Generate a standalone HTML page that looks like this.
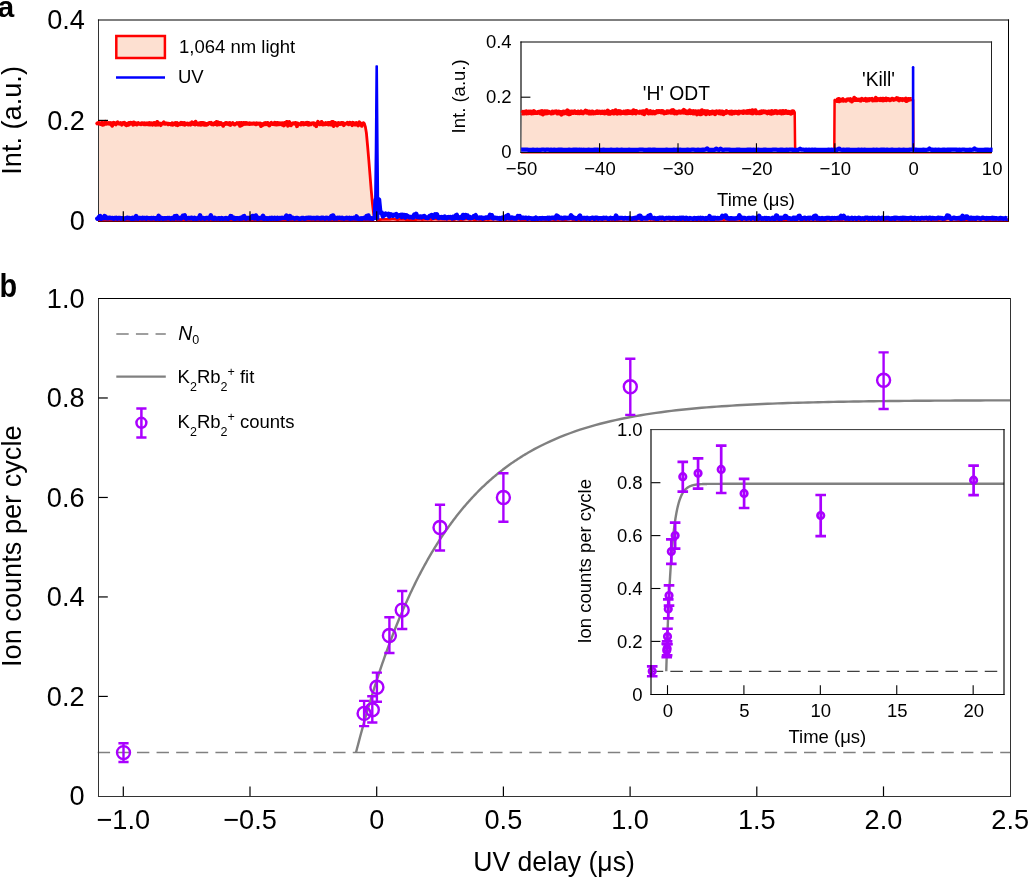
<!DOCTYPE html>
<html><head><meta charset="utf-8"><style>
html,body{margin:0;padding:0;background:#fff;overflow:hidden}
svg{display:block;will-change:transform}
text{font-family:"Liberation Sans",sans-serif}
</style></head><body>
<svg width="1028" height="877" viewBox="0 0 1028 877" font-family='"Liberation Sans", sans-serif'>
<rect width="1028" height="877" fill="#fff"/>
<line x1="98.5" y1="20" x2="98.5" y2="221.5" stroke="#333" stroke-width="1" stroke-linecap="square"/>
<line x1="98.5" y1="20" x2="1008.5" y2="20" stroke="#000" stroke-width="1.15" stroke-linecap="square"/>
<line x1="1008.5" y1="20" x2="1008.5" y2="221.5" stroke="#000" stroke-width="1" stroke-linecap="square"/>
<polygon points="99,221 99,123.45 99,123.01 99,122.92 99,122.87 99.6,123.79 100.2,123.93 100.8,124.06 101.4,122.92 102,122.9 102.6,124.83 103.2,123.04 103.8,124.43 104.4,123.96 105,123.54 105.6,121.73 106.2,123.86 106.8,123.73 107.4,123.52 108,123.16 108.6,122.96 109.2,123.79 109.8,123.7 110.4,122.95 111,123.13 111.6,124.67 112.2,125.8 112.8,123.5 113.4,122.84 114,123.75 114.6,122.92 115.2,124.09 115.8,124.44 116.4,123.57 117,122.85 117.6,122.16 118.2,123.37 118.8,123.6 119.4,123.79 120,123.6 120.6,123.07 121.2,123.9 121.8,124.77 122.4,123.56 123,122.97 123.6,123.11 124.2,122.81 124.8,123.54 125.4,124.71 126,123.83 126.6,125.27 127.2,123.59 127.8,123.6 128.4,124.77 129,123.02 129.6,123 130.2,123.87 130.8,122.74 131.4,123.1 132,123.49 132.6,123.05 133.2,124.79 133.8,122.37 134.4,124.28 135,124.18 135.6,123.21 136.2,123.52 136.8,124.63 137.4,123.4 138,122.98 138.6,123.84 139.2,123.51 139.8,123.88 140.4,124.07 141,124.38 141.6,123.19 142.2,123.6 142.8,123.2 143.4,124.26 144,124.38 144.6,123.19 145.2,123.49 145.8,124.25 146.4,123.77 147,123.19 147.6,124.05 148.2,124.48 148.8,124.11 149.4,122.97 150,124.62 150.6,124.3 151.2,123.16 151.8,123.47 152.4,124.74 153,123.6 153.6,124.25 154.2,123.05 154.8,124.61 155.4,123.09 156,124.76 156.6,123.5 157.2,121.84 157.8,124.67 158.4,124.54 159,123.22 159.6,123.39 160.2,123.97 160.8,125.16 161.4,124.12 162,123.83 162.6,123.34 163.2,122.84 163.8,122.23 164.4,123.75 165,123.91 165.6,123.84 166.2,123.37 166.8,123.35 167.4,123.82 168,124.32 168.6,123.69 169.2,123.81 169.8,124.19 170.4,123.87 171,124.68 171.6,124.55 172.2,123.32 172.8,124.69 173.4,124.13 174,124.14 174.6,123.23 175.2,123.04 175.8,124.68 176.4,123.53 177,123.07 177.6,125.22 178.2,124.14 178.8,124.21 179.4,123.61 180,124.33 180.6,123.91 181.2,122.84 181.8,124.05 182.4,122.93 183,124.38 183.6,123.01 184.2,122.88 184.8,124.82 185.4,124.15 186,123.61 186.6,123.83 187.2,123.45 187.8,124.4 188.4,124.59 189,123.7 189.6,123.35 190.2,123.48 190.8,124.65 191.4,123.06 192,122.27 192.6,123.16 193.2,124.06 193.8,123.21 194.4,124.14 195,124.41 195.6,121.66 196.2,123.29 196.8,124.12 197.4,124.11 198,124.58 198.6,123.42 199.2,123.26 199.8,124.56 200.4,123.08 201,124.76 201.6,122.83 202.2,124.56 202.8,122.91 203.4,123.56 204,124.74 204.6,123.26 205.2,123.69 205.8,124.72 206.4,123.89 207,124.73 207.6,124.38 208.2,123.36 208.8,123.3 209.4,122.98 210,123.09 210.6,123.59 211.2,122.73 211.8,124.23 212.4,123.58 213,123.93 213.6,124.47 214.2,124.05 214.8,122.96 215.4,123.97 216,124.17 216.6,121.95 217.2,124.72 217.8,122.4 218.4,124.16 219,122.81 219.6,124.3 220.2,123.87 220.8,122.93 221.4,124.29 222,124.31 222.6,124.1 223.2,125.9 223.8,124.03 224.4,124.28 225,124.19 225.6,123.07 226.2,123.77 226.8,123 227.4,123.78 228,123.37 228.6,124.33 229.2,123.9 229.8,122.97 230.4,124.97 231,123.57 231.6,123.75 232.2,123.85 232.8,123.07 233.4,123.82 234,124.21 234.6,124.6 235.2,124.19 235.8,123.61 236.4,123.63 237,123.04 237.6,123.45 238.2,123.6 238.8,124.19 239.4,122.93 240,125.94 240.6,124.51 241.2,122.9 241.8,125.22 242.4,123.43 243,124.37 243.6,122.86 244.2,123.6 244.8,123.91 245.4,122.96 246,123.62 246.6,123.08 247.2,123.77 247.8,123.9 248.4,123.63 249,123.31 249.6,124.11 250.2,123.28 250.8,123.28 251.4,123.8 252,123.9 252.6,123.47 253.2,123.65 253.8,123.29 254.4,123.91 255,123.54 255.6,124.31 256.2,124.29 256.8,123.34 257.4,123.8 258,123.52 258.6,123.86 259.2,123.39 259.8,124.09 260.4,123.42 261,126.1 261.6,124.59 262.2,125.52 262.8,124.66 263.4,123.74 264,124.37 264.6,123.1 265.2,123.02 265.8,124.2 266.4,123.79 267,123.05 267.6,122.88 268.2,124.72 268.8,123.86 269.4,125.55 270,123.97 270.6,123.25 271.2,122.82 271.8,123.72 272.4,124.09 273,123.75 273.6,123.29 274.2,124.21 274.8,122.84 275.4,124.15 276,123.31 276.6,124.65 277.2,122.87 277.8,123.64 278.4,123.2 279,124.28 279.6,123.21 280.2,123.42 280.8,123.26 281.4,124.32 282,124.7 282.6,123.17 283.2,123.63 283.8,125.54 284.4,122.85 285,123.63 285.6,123.17 286.2,124.22 286.8,121.96 287.4,123.17 288,125.76 288.6,124.77 289.2,121.94 289.8,123.61 290.4,124.34 291,125.36 291.6,123.88 292.2,123.45 292.8,123.75 293.4,123.3 294,123.61 294.6,123.73 295.2,122.92 295.8,122.93 296.4,123.53 297,126.25 297.6,123.39 298.2,123.99 298.8,123.81 299.4,124.23 300,124.35 300.6,124.63 301.2,123.07 301.8,122.82 302.4,123.41 303,123.1 303.6,124.52 304.2,124.37 304.8,123.82 305.4,123.12 306,124.1 306.6,123.89 307.2,122.64 307.8,124.56 308.4,124.74 309,123.07 309.6,124.58 310.2,123.88 310.8,124.32 311.4,123.39 312,123.34 312.6,123.32 313.2,123.17 313.8,123.36 314.4,124.77 315,123.81 315.6,124.42 316.2,126.29 316.8,123.26 317.4,123.55 318,121.72 318.6,123.54 319.2,123.7 319.8,124.36 320.4,123.01 321,124.04 321.6,121.94 322.2,122.88 322.8,124.63 323.4,124.44 324,123.54 324.6,124.19 325.2,124.26 325.8,123.11 326.4,124.11 327,123.34 327.6,124.14 328.2,122.9 328.8,124.57 329.4,122.84 330,124.4 330.6,123.58 331.2,124.68 331.8,121.99 332.4,124.57 333,121.81 333.6,126.01 334.2,123.14 334.8,123.12 335.4,122.93 336,124.31 336.6,124.41 337.2,125.53 337.8,124.02 338.4,122.97 339,124.18 339.6,124.08 340.2,124.04 340.8,123.19 341.4,122.82 342,123.05 342.6,124.25 343.2,122.88 343.8,125.21 344.4,124 345,124.05 345.6,123.64 346.2,123.65 346.8,123.69 347.4,122.85 348,123.78 348.6,124.33 349.2,123.72 349.8,122.66 350.4,123.53 351,123.81 351.6,124.3 352.2,125.15 352.8,122.77 353.4,124.26 354,123.19 354.6,123.78 355.2,124.63 355.8,124.38 356.4,122.93 357,124.31 357.6,124.59 358.2,125.4 358.8,123.33 359.4,122.32 360,124.07 360.6,123.46 361.2,124.38 361.8,125.91 362.4,123.71 363,124.18 363.6,123.3 364.6,124.5 365.4,127 366.4,133 367.6,146 368.8,160 370,175 371.2,190 372.4,203 373.4,212 374.3,217.2 374.3,221" fill="#fde0d1"/>
<line x1="98" y1="219.6" x2="374" y2="219.6" stroke="#ff0000" stroke-width="2.6"/>
<polyline points="374.3,217.2 377,218.6 378,219.69 380,219.59 382,219.3 384,219.3 386,219.3 388,219.12 390,219.26 392,219.07 394,219.18 396,219.49 398,219.77 400,219.24 402,219.41 404,219.25 406,219.77 408,219.7 410,219.74 412,219.72 414,219.59 416,219.6 418,219.18 420,219.23 422,219.5 424,219.33 426,219.29 428,219.04 430,219.39 432,219.49 434,219.04 436,219.04 438,219.45 440,219.24 442,219.42 444,219.43 446,219.33 448,219.24 450,219.11 452,219.29 454,219.66 456,219.13 458,219.01 460,219.64 462,219.57 464,219.36 466,219.05 468,219.12 470,219.53 472,219.22 474,219.65 476,219.77 478,219.04 480,219.66 482,219.71 484,219.48 486,219.46 488,219.48 490,219.41 492,219.39 494,219.13 496,219 498,219.05 500,219.02 502,219.15 504,219.13 506,219.73 508,219.08 510,219.49 512,219.53 514,219.16 516,219.33 518,219.41 520,219.51 522,219.52 524,219.33 526,219.49 528,219.41 530,219.05 532,219.5 534,219.8 536,219.58 538,219.38 540,219.43 542,219.3 544,219.35 546,219.73 548,219.06 550,219.52 552,219.14 554,219.8 556,219.21 558,219.52 560,219.1 562,219.71 564,219.74 566,219.75 568,219.21 570,219.04 572,219.51 574,219.54 576,219.55 578,219.73 580,219.78 582,219.24 584,219.74 586,219.72 588,219.07 590,219.41 592,219.14 594,219.72 596,219.67 598,219.16 600,219.13 602,219.73 604,219.15 606,219.31 608,219.48 610,219.3 612,219.68 614,219.74 616,219.79 618,219.67 620,219.43 622,219.38 624,219.42 626,219.01 628,219.02 630,219.76 632,219.19 634,219.71 636,219.63 638,219.31 640,219.47 642,219.45 644,219.14 646,219.03 648,219.09 650,219.5 652,219.13 654,219.78 656,219.56 658,219.02 660,219.11 662,219.51 664,219.03 666,219.05 668,219.04 670,219.69 672,219.61 674,219.16 676,219.76 678,219.43 680,219.53 682,219.7 684,219.6 686,219.57 688,219.31 690,219.2 692,219.16 694,219.03 696,219.76 698,219.73 700,219.6 702,219.07 704,219.6 706,219.51 708,219.38 710,219.11 712,219.63 714,219.52 716,219.24 718,219.27 720,219.21 722,219.28 724,219.74 726,219.04 728,219.61 730,219.73 732,219.62 734,219.48 736,219.38 738,219.23 740,219.6 742,219.63 744,219.02 746,219.41 748,219.08 750,219.38 752,219.04 754,219.45 756,219.57 758,219.66 760,219.46 762,219.23 764,219.35 766,219.42 768,219.23 770,219.6 772,219.04 774,219.28 776,219.08 778,219.56 780,219.66 782,219.77 784,219.47 786,219.77 788,219.41 790,219.46 792,219.13 794,219.65 796,219.75 798,219.19 800,219.13 802,219.75 804,219.61 806,219.39 808,219.79 810,219.45 812,219.08 814,219.26 816,219.08 818,219.74 820,219.71 822,219.6 824,219.34 826,219.52 828,219.3 830,219.24 832,219.34 834,219.44 836,219.14 838,219.79 840,219.5 842,219.76 844,219.1 846,219.48 848,219.55 850,219.48 852,219.03 854,219.47 856,219.42 858,219.69 860,219.36 862,219.44 864,219.26 866,219.37 868,219.55 870,219.21 872,219.18 874,219.27 876,219.51 878,219.56 880,219.41 882,219.21 884,219.6 886,219.66 888,219.49 890,219.58 892,219.78 894,219.58 896,219.48 898,219.28 900,219.19 902,219.76 904,219.21 906,219.76 908,219.8 910,219.13 912,219.53 914,219.16 916,219.12 918,219.12 920,219.24 922,219.24 924,219.22 926,219.09 928,219.73 930,219.22 932,219.71 934,219.37 936,219.01 938,219.68 940,219.35 942,219.18 944,219.78 946,219.24 948,219.02 950,219.21 952,219.59 954,219 956,219.19 958,219.68 960,219.56 962,219.47 964,219.52 966,219.68 968,219.53 970,219.52 972,219.7 974,219.51 976,219.47 978,219.18 980,219.15 982,219.1 984,219.35 986,219.21 988,219.56 990,219.72 992,219.19 994,219.32 996,219.57 998,219.13 1000,219.68 1002,219.39 1004,219.02 1006,219.69 1008,219.41" fill="none" stroke="#ff0000" stroke-width="2.8" stroke-linejoin="round"/>
<polyline points="97.2,123.45 97.8,123.01 98.4,122.92 99,122.87 99.6,123.79 100.2,123.93 100.8,124.06 101.4,122.92 102,122.9 102.6,124.83 103.2,123.04 103.8,124.43 104.4,123.96 105,123.54 105.6,121.73 106.2,123.86 106.8,123.73 107.4,123.52 108,123.16 108.6,122.96 109.2,123.79 109.8,123.7 110.4,122.95 111,123.13 111.6,124.67 112.2,125.8 112.8,123.5 113.4,122.84 114,123.75 114.6,122.92 115.2,124.09 115.8,124.44 116.4,123.57 117,122.85 117.6,122.16 118.2,123.37 118.8,123.6 119.4,123.79 120,123.6 120.6,123.07 121.2,123.9 121.8,124.77 122.4,123.56 123,122.97 123.6,123.11 124.2,122.81 124.8,123.54 125.4,124.71 126,123.83 126.6,125.27 127.2,123.59 127.8,123.6 128.4,124.77 129,123.02 129.6,123 130.2,123.87 130.8,122.74 131.4,123.1 132,123.49 132.6,123.05 133.2,124.79 133.8,122.37 134.4,124.28 135,124.18 135.6,123.21 136.2,123.52 136.8,124.63 137.4,123.4 138,122.98 138.6,123.84 139.2,123.51 139.8,123.88 140.4,124.07 141,124.38 141.6,123.19 142.2,123.6 142.8,123.2 143.4,124.26 144,124.38 144.6,123.19 145.2,123.49 145.8,124.25 146.4,123.77 147,123.19 147.6,124.05 148.2,124.48 148.8,124.11 149.4,122.97 150,124.62 150.6,124.3 151.2,123.16 151.8,123.47 152.4,124.74 153,123.6 153.6,124.25 154.2,123.05 154.8,124.61 155.4,123.09 156,124.76 156.6,123.5 157.2,121.84 157.8,124.67 158.4,124.54 159,123.22 159.6,123.39 160.2,123.97 160.8,125.16 161.4,124.12 162,123.83 162.6,123.34 163.2,122.84 163.8,122.23 164.4,123.75 165,123.91 165.6,123.84 166.2,123.37 166.8,123.35 167.4,123.82 168,124.32 168.6,123.69 169.2,123.81 169.8,124.19 170.4,123.87 171,124.68 171.6,124.55 172.2,123.32 172.8,124.69 173.4,124.13 174,124.14 174.6,123.23 175.2,123.04 175.8,124.68 176.4,123.53 177,123.07 177.6,125.22 178.2,124.14 178.8,124.21 179.4,123.61 180,124.33 180.6,123.91 181.2,122.84 181.8,124.05 182.4,122.93 183,124.38 183.6,123.01 184.2,122.88 184.8,124.82 185.4,124.15 186,123.61 186.6,123.83 187.2,123.45 187.8,124.4 188.4,124.59 189,123.7 189.6,123.35 190.2,123.48 190.8,124.65 191.4,123.06 192,122.27 192.6,123.16 193.2,124.06 193.8,123.21 194.4,124.14 195,124.41 195.6,121.66 196.2,123.29 196.8,124.12 197.4,124.11 198,124.58 198.6,123.42 199.2,123.26 199.8,124.56 200.4,123.08 201,124.76 201.6,122.83 202.2,124.56 202.8,122.91 203.4,123.56 204,124.74 204.6,123.26 205.2,123.69 205.8,124.72 206.4,123.89 207,124.73 207.6,124.38 208.2,123.36 208.8,123.3 209.4,122.98 210,123.09 210.6,123.59 211.2,122.73 211.8,124.23 212.4,123.58 213,123.93 213.6,124.47 214.2,124.05 214.8,122.96 215.4,123.97 216,124.17 216.6,121.95 217.2,124.72 217.8,122.4 218.4,124.16 219,122.81 219.6,124.3 220.2,123.87 220.8,122.93 221.4,124.29 222,124.31 222.6,124.1 223.2,125.9 223.8,124.03 224.4,124.28 225,124.19 225.6,123.07 226.2,123.77 226.8,123 227.4,123.78 228,123.37 228.6,124.33 229.2,123.9 229.8,122.97 230.4,124.97 231,123.57 231.6,123.75 232.2,123.85 232.8,123.07 233.4,123.82 234,124.21 234.6,124.6 235.2,124.19 235.8,123.61 236.4,123.63 237,123.04 237.6,123.45 238.2,123.6 238.8,124.19 239.4,122.93 240,125.94 240.6,124.51 241.2,122.9 241.8,125.22 242.4,123.43 243,124.37 243.6,122.86 244.2,123.6 244.8,123.91 245.4,122.96 246,123.62 246.6,123.08 247.2,123.77 247.8,123.9 248.4,123.63 249,123.31 249.6,124.11 250.2,123.28 250.8,123.28 251.4,123.8 252,123.9 252.6,123.47 253.2,123.65 253.8,123.29 254.4,123.91 255,123.54 255.6,124.31 256.2,124.29 256.8,123.34 257.4,123.8 258,123.52 258.6,123.86 259.2,123.39 259.8,124.09 260.4,123.42 261,126.1 261.6,124.59 262.2,125.52 262.8,124.66 263.4,123.74 264,124.37 264.6,123.1 265.2,123.02 265.8,124.2 266.4,123.79 267,123.05 267.6,122.88 268.2,124.72 268.8,123.86 269.4,125.55 270,123.97 270.6,123.25 271.2,122.82 271.8,123.72 272.4,124.09 273,123.75 273.6,123.29 274.2,124.21 274.8,122.84 275.4,124.15 276,123.31 276.6,124.65 277.2,122.87 277.8,123.64 278.4,123.2 279,124.28 279.6,123.21 280.2,123.42 280.8,123.26 281.4,124.32 282,124.7 282.6,123.17 283.2,123.63 283.8,125.54 284.4,122.85 285,123.63 285.6,123.17 286.2,124.22 286.8,121.96 287.4,123.17 288,125.76 288.6,124.77 289.2,121.94 289.8,123.61 290.4,124.34 291,125.36 291.6,123.88 292.2,123.45 292.8,123.75 293.4,123.3 294,123.61 294.6,123.73 295.2,122.92 295.8,122.93 296.4,123.53 297,126.25 297.6,123.39 298.2,123.99 298.8,123.81 299.4,124.23 300,124.35 300.6,124.63 301.2,123.07 301.8,122.82 302.4,123.41 303,123.1 303.6,124.52 304.2,124.37 304.8,123.82 305.4,123.12 306,124.1 306.6,123.89 307.2,122.64 307.8,124.56 308.4,124.74 309,123.07 309.6,124.58 310.2,123.88 310.8,124.32 311.4,123.39 312,123.34 312.6,123.32 313.2,123.17 313.8,123.36 314.4,124.77 315,123.81 315.6,124.42 316.2,126.29 316.8,123.26 317.4,123.55 318,121.72 318.6,123.54 319.2,123.7 319.8,124.36 320.4,123.01 321,124.04 321.6,121.94 322.2,122.88 322.8,124.63 323.4,124.44 324,123.54 324.6,124.19 325.2,124.26 325.8,123.11 326.4,124.11 327,123.34 327.6,124.14 328.2,122.9 328.8,124.57 329.4,122.84 330,124.4 330.6,123.58 331.2,124.68 331.8,121.99 332.4,124.57 333,121.81 333.6,126.01 334.2,123.14 334.8,123.12 335.4,122.93 336,124.31 336.6,124.41 337.2,125.53 337.8,124.02 338.4,122.97 339,124.18 339.6,124.08 340.2,124.04 340.8,123.19 341.4,122.82 342,123.05 342.6,124.25 343.2,122.88 343.8,125.21 344.4,124 345,124.05 345.6,123.64 346.2,123.65 346.8,123.69 347.4,122.85 348,123.78 348.6,124.33 349.2,123.72 349.8,122.66 350.4,123.53 351,123.81 351.6,124.3 352.2,125.15 352.8,122.77 353.4,124.26 354,123.19 354.6,123.78 355.2,124.63 355.8,124.38 356.4,122.93 357,124.31 357.6,124.59 358.2,125.4 358.8,123.33 359.4,122.32 360,124.07 360.6,123.46 361.2,124.38 361.8,125.91 362.4,123.71 363,124.18 363.6,123.3" fill="none" stroke="#ff0000" stroke-width="3.8" stroke-linejoin="round" stroke-linecap="round"/>
<polyline points="362.4,123.71 363,124.18 363.6,123.3 364.6,124.5 365.4,127 366.4,133 367.6,146 368.8,160 370,175 371.2,190 372.4,203 373.4,212 374.3,217.2" fill="none" stroke="#ff0000" stroke-width="2.8" stroke-linejoin="round" stroke-linecap="round"/>
<polyline points="97.4,218.67 98.3,218.13 99.2,216.82 100.1,216.08 101,218.75 101.9,218.15 102.8,218.26 103.7,218.28 104.6,216.19 105.5,216.78 106.4,218.19 107.3,217.92 108.2,218.16 109.1,218.07 110,217.81 110.9,218.22 111.8,218.15 112.7,218.02 113.6,218.74 114.5,218.02 115.4,218.19 116.3,217.93 117.2,218.61 118.1,218.27 119,218.03 119.9,218.15 120.8,218.62 121.7,218.27 122.6,218.35 123.5,218.63 124.4,218.65 125.3,218.18 126.2,218.23 127.1,217.8 128,218.08 128.9,218.1 129.8,218.23 130.7,218.46 131.6,218.73 132.5,217.86 133.4,218.71 134.3,217.94 135.2,218.43 136.1,216.15 137,218.41 137.9,218.65 138.8,218.25 139.7,218.01 140.6,218.33 141.5,218.49 142.4,217.89 143.3,218.35 144.2,218.1 145.1,218.01 146,218.64 146.9,217.92 147.8,218.22 148.7,218.27 149.6,218.28 150.5,218.5 151.4,217.96 152.3,218.53 153.2,218.12 154.1,218.3 155,218.27 155.9,218.8 156.8,217.98 157.7,218.45 158.6,215.94 159.5,218.78 160.4,218.28 161.3,217.83 162.2,218.43 163.1,218.66 164,218.27 164.9,218.57 165.8,218.24 166.7,218.35 167.6,218.09 168.5,218.2 169.4,218.07 170.3,218.77 171.2,218.59 172.1,218.12 173,218.39 173.9,218.58 174.8,216.23 175.7,216.26 176.6,216.07 177.5,218.28 178.4,217.86 179.3,218.34 180.2,217.95 181.1,218.49 182,217.88 182.9,215.85 183.8,215.96 184.7,215.42 185.6,218.46 186.5,218.62 187.4,218.36 188.3,218.1 189.2,218.12 190.1,218.44 191,217.85 191.9,217.84 192.8,218.61 193.7,218.72 194.6,217.81 195.5,218.39 196.4,218.78 197.3,218.21 198.2,218.44 199.1,217.95 200,215.47 200.9,218.66 201.8,217.92 202.7,218.08 203.6,218.25 204.5,218.72 205.4,218.55 206.3,217.94 207.2,218.09 208.1,218.3 209,218.69 209.9,217.85 210.8,215.49 211.7,217.88 212.6,218.53 213.5,218.66 214.4,217.86 215.3,218.37 216.2,218.48 217.1,218.6 218,218.44 218.9,218.22 219.8,218.59 220.7,218.58 221.6,218.09 222.5,218.77 223.4,218.63 224.3,218.41 225.2,218.63 226.1,218.11 227,218.69 227.9,218.48 228.8,218.7 229.7,218.08 230.6,216.14 231.5,216.31 232.4,218.09 233.3,218.69 234.2,217.95 235.1,218.6 236,218.58 236.9,218.33 237.8,218.28 238.7,218.59 239.6,218.78 240.5,217.86 241.4,218.51 242.3,218.39 243.2,216.39 244.1,216.19 245,218.38 245.9,218.69 246.8,218.28 247.7,217.99 248.6,217.98 249.5,218.16 250.4,218.2 251.3,217.95 252.2,216.29 253.1,216 254,218.4 254.9,218.32 255.8,215.51 256.7,218.39 257.6,218.73 258.5,217.9 259.4,218.39 260.3,217.93 261.2,218.14 262.1,218.18 263,215.86 263.9,218.75 264.8,217.86 265.7,218.2 266.6,218.76 267.5,218.36 268.4,218.76 269.3,218.19 270.2,217.96 271.1,218.79 272,217.84 272.9,218.15 273.8,218.7 274.7,217.85 275.6,218.51 276.5,218.79 277.4,217.94 278.3,218.74 279.2,218.1 280.1,218.56 281,218.12 281.9,217.92 282.8,217.97 283.7,217.94 284.6,217.81 285.5,218 286.4,215.58 287.3,218.55 288.2,218.76 289.1,218.19 290,216.18 290.9,218.28 291.8,217.94 292.7,217.86 293.6,218.35 294.5,218.67 295.4,218.21 296.3,218.07 297.2,218.13 298.1,218.29 299,218.7 299.9,218.78 300.8,218.7 301.7,218.01 302.6,218.09 303.5,218 304.4,218.79 305.3,218.73 306.2,218.09 307.1,217.86 308,218.09 308.9,217.82 309.8,218.14 310.7,217.8 311.6,218.33 312.5,218.24 313.4,218.02 314.3,217.94 315.2,218.57 316.1,218 317,217.89 317.9,218.3 318.8,218.01 319.7,218.51 320.6,218.38 321.5,217.87 322.4,218.21 323.3,217.86 324.2,218.14 325.1,218.66 326,217.82 326.9,218.28 327.8,218.07 328.7,218.63 329.6,217.96 330.5,218.39 331.4,216.16 332.3,215.79 333.2,215.58 334.1,218.58 335,218.38 335.9,218.09 336.8,218.53 337.7,217.83 338.6,217.93 339.5,217.89 340.4,217.97 341.3,218.36 342.2,217.82 343.1,218.54 344,218.64 344.9,218.26 345.8,218.24 346.7,217.89 347.6,218.07 348.5,218.39 349.4,217.91 350.3,218.68 351.2,218.03 352.1,218.47 353,218.2 353.9,217.82 354.8,218.49 355.7,218.4 356.6,216.51 357.5,218.14 358.4,218.78 359.3,218.71 360.2,218.65 361.1,218.32 362,218.73 362.9,218.22 363.8,218.16 364.7,217.87 365.6,218.3 366.5,216.1 367.4,218.25 368.3,215.52 369.2,218.48 370.1,218.34 371,218.42 371.9,218.32 372.8,218.75 373.7,218.11 374.9,217.8 375.6,200" fill="none" stroke="#0000ff" stroke-width="4.6" stroke-linejoin="round" stroke-linecap="round"/>
<polyline points="381,211.5 382,213.33 382.9,216.39 383.8,214.03 384.7,215.03 385.6,213.69 386.5,214.35 387.4,214.4 388.3,213.81 389.2,216.34 390.1,215.52 391,214.4 391.9,215.29 392.8,215.82 393.7,214.94 394.6,214.74 395.5,215.28 396.4,214.25 397.3,216.79 398.2,215.95 399.1,215.23 400,215.31 400.9,214.98 401.8,217 402.7,214.84 403.6,215.91 404.5,215.08 405.4,217.37 406.3,215.3 407.2,215.86 408.1,216.58 409,217.13 409.9,216.96 410.8,217.04 411.7,217.13 412.6,217.48 413.5,217.4 414.4,214.55 415.3,215.41 416.2,214 417.1,216.9 418,216.57 418.9,217.21 419.8,216.5 420.7,216.52 421.6,217.43 422.5,216.84 423.4,216.19 424.3,216.14 425.2,217.09 426.1,217.82 427,217.68 427.9,217.94 428.8,216.88 429.7,216.07 430.6,215.82 431.5,215.12 432.4,215.21 433.3,217.59 434.2,217.1 435.1,214.35 436,215.33 436.9,214.39 437.8,217.37 438.7,217.98 439.6,217.27 440.5,217.54 441.4,217.06 442.3,217.92 443.2,217.06 444.1,217.97 445,216.74 445.9,217.76 446.8,218.29 447.7,217.33 448.6,217.13 449.5,217.5 450.4,216.98 451.3,217.7 452.2,218.35 453.1,216.81 454,218.04 454.9,217.89 455.8,215.56 456.7,215.02 457.6,218.05 458.5,218.22 459.4,217.68 460.3,217.2 461.2,217.14 462.1,217.71 463,214.99 463.9,217.89 464.8,217.07 465.7,215.1 466.6,215.6 467.5,215.54 468.4,217.89 469.3,217.71 470.2,217.15 471.1,217.92 472,217.73 472.9,217.47 473.8,216.28 474.7,215.95 475.6,215.29 476.5,217.85 477.4,217.51 478.3,218.18 479.2,217.62 480.1,217.87 481,217.55 481.9,217.72 482.8,218.55 483.7,218.01 484.6,217.98 485.5,217.81 486.4,217.45 487.3,217.76 488.2,217.56 489.1,217.62 490,214.91 490.9,215.74 491.8,215.36 492.7,218.06 493.6,218.38 494.5,217.84 495.4,217.89 496.3,218.12 497.2,217.99 498.1,218.48 499,218.59 499.9,218.16 500.8,218.65 501.7,217.93 502.6,217.59 503.5,218.28 504.4,218.49 505.3,218.39 506.2,216.11 507.1,216.07 508,215.21 508.9,218.28 509.8,218.16 510.7,218.09 511.6,217.58 512.5,217.78 513.4,218.36 514.3,218 515.2,218.44 516.1,218.54 517,217.86 517.9,216.12 518.8,216.77 519.7,216.2 520.6,218.02 521.5,217.67 522.4,217.88 523.3,217.82 524.2,218.04 525.1,218.07 526,217.76 526.9,218.22 527.8,218.66 528.7,217.85 529.6,218.19 530.5,218.36 531.4,218.66 532.3,218.47 533.2,218.63 534.1,218.27 535,218.71 535.9,217.66 536.8,218.49 537.7,218.65 538.6,218.46 539.5,218.32 540.4,218.22 541.3,218.69 542.2,218.02 543.1,218.41 544,218.34 544.9,218.4 545.8,218.4 546.7,218.51 547.6,217.87 548.5,218.57 549.4,217.86 550.3,218.52 551.2,217.96 552.1,217.86 553,217.78 553.9,217.83 554.8,218.21 555.7,218.45 556.6,215.62 557.5,216.03 558.4,216.73 559.3,218.05 560.2,218.28 561.1,217.88 562,218.34 562.9,218.52 563.8,217.82 564.7,218.09 565.6,217.77 566.5,217.92 567.4,218.19 568.3,218.06 569.2,218.1 570.1,217.79 571,215.43 571.9,216.5 572.8,218.24 573.7,217.92 574.6,217.73 575.5,218.4 576.4,218.71 577.3,217.99 578.2,217.87 579.1,216.57 580,215.62 580.9,218.7 581.8,218.56 582.7,218.51 583.6,217.93 584.5,218.07 585.4,218.31 586.3,218.61 587.2,217.78 588.1,218.4 589,218.48 589.9,218.73 590.8,218.26 591.7,218.06 592.6,217.83 593.5,217.92 594.4,218.76 595.3,217.79 596.2,217.95 597.1,217.76 598,218.64 598.9,218.19 599.8,218.44 600.7,218.19 601.6,218.21 602.5,218.61 603.4,217.93 604.3,218.22 605.2,218.12 606.1,217.85 607,218.24 607.9,218.7 608.8,218.76 609.7,218.4 610.6,217.83 611.5,218.39 612.4,218.35 613.3,218.26 614.2,218.07 615.1,218.67 616,215.6 616.9,217.92 617.8,218.34 618.7,218.14 619.6,218.22 620.5,218 621.4,217.98 622.3,218 623.2,218.44 624.1,218.46 625,218.01 625.9,218.33 626.8,218.52 627.7,218.35 628.6,218.47 629.5,217.91 630.4,218.29 631.3,218.74 632.2,218.75 633.1,218.25 634,218.33 634.9,217.97 635.8,217.87 636.7,218.41 637.6,217.83 638.5,216.41 639.4,215.72 640.3,215.7 641.2,218.67 642.1,218.71 643,217.95 643.9,218.13 644.8,218.47 645.7,217.91 646.6,218.53 647.5,218.51 648.4,216.06 649.3,215.83 650.2,215.29 651.1,218.14 652,217.81 652.9,218.23 653.8,218.28 654.7,218.05 655.6,218.73 656.5,218.46 657.4,218.38 658.3,218.79 659.2,218.06 660.1,217.81 661,218.28 661.9,217.82 662.8,217.86 663.7,218.44 664.6,218.64 665.5,218.49 666.4,218.02 667.3,218.31 668.2,218.32 669.1,217.92 670,218 670.9,218.52 671.8,218.26 672.7,218.11 673.6,218.28 674.5,218.04 675.4,218.4 676.3,218.52 677.2,218.18 678.1,218.79 679,218.37 679.9,217.93 680.8,218.71 681.7,217.89 682.6,218.22 683.5,217.89 684.4,218.59 685.3,218.59 686.2,217.87 687.1,218.14 688,218.65 688.9,218.67 689.8,218.13 690.7,218.47 691.6,218.58 692.5,218.69 693.4,218.8 694.3,218 695.2,218.47 696.1,218.19 697,218.73 697.9,217.94 698.8,218.05 699.7,218.46 700.6,217.87 701.5,218.72 702.4,218.1 703.3,218.26 704.2,218.49 705.1,218.72 706,218.12 706.9,218.7 707.8,218.56 708.7,218.03 709.6,216.24 710.5,218.66 711.4,217.99 712.3,218.76 713.2,217.88 714.1,218.67 715,217.93 715.9,218.33 716.8,218.44 717.7,218.01 718.6,218.55 719.5,218.2 720.4,218.14 721.3,218.21 722.2,215.99 723.1,216.67 724,216.24 724.9,215.77 725.8,215.56 726.7,218.13 727.6,217.95 728.5,218.57 729.4,218.61 730.3,218.34 731.2,218.35 732.1,218.4 733,218.54 733.9,218.51 734.8,218.58 735.7,218.57 736.6,218.25 737.5,218.32 738.4,217.93 739.3,215.45 740.2,216.86 741.1,218.2 742,218.74 742.9,217.92 743.8,218 744.7,218.06 745.6,218.54 746.5,218.67 747.4,218.58 748.3,218.15 749.2,218.24 750.1,218.01 751,218.7 751.9,218.01 752.8,217.82 753.7,217.81 754.6,218.71 755.5,218.15 756.4,218.17 757.3,218.17 758.2,218.66 759.1,215.91 760,218 760.9,218.44 761.8,218.79 762.7,218.37 763.6,218.66 764.5,218.07 765.4,218.62 766.3,218.13 767.2,218.69 768.1,218.48 769,218.25 769.9,218.68 770.8,218.68 771.7,218.58 772.6,217.98 773.5,218.79 774.4,217.82 775.3,218.77 776.2,215.56 777.1,215.96 778,217.89 778.9,218.72 779.8,218.68 780.7,217.83 781.6,218.59 782.5,217.84 783.4,218.03 784.3,217.9 785.2,215.98 786.1,216.18 787,217.8 787.9,218.34 788.8,218.35 789.7,218.33 790.6,218.76 791.5,218.77 792.4,218.77 793.3,217.87 794.2,217.81 795.1,218.77 796,217.85 796.9,218.75 797.8,218.13 798.7,216.1 799.6,215.9 800.5,218.52 801.4,218.12 802.3,218.77 803.2,218.19 804.1,217.94 805,217.8 805.9,218.73 806.8,218.41 807.7,218.04 808.6,217.92 809.5,218.58 810.4,217.85 811.3,218.12 812.2,218.35 813.1,218.77 814,216.27 814.9,215.91 815.8,215.72 816.7,218.67 817.6,217.86 818.5,218.07 819.4,218.63 820.3,218.6 821.2,218.72 822.1,218.06 823,218.66 823.9,218.39 824.8,218.8 825.7,218.56 826.6,218 827.5,218.17 828.4,217.95 829.3,217.98 830.2,218.66 831.1,218.71 832,218.16 832.9,218.23 833.8,218.5 834.7,218.16 835.6,218.32 836.5,218.46 837.4,218.09 838.3,217.91 839.2,218.53 840.1,218.32 841,215.95 841.9,218.17 842.8,218.18 843.7,215.79 844.6,218.11 845.5,218.72 846.4,218.07 847.3,218.33 848.2,217.89 849.1,218.76 850,218.58 850.9,218.52 851.8,217.84 852.7,218.77 853.6,218.41 854.5,218.04 855.4,217.93 856.3,218.78 857.2,218.38 858.1,218 859,217.88 859.9,218.19 860.8,218.74 861.7,218.59 862.6,218.36 863.5,218.5 864.4,218.79 865.3,217.86 866.2,217.94 867.1,217.81 868,218 868.9,218.73 869.8,218.13 870.7,218.26 871.6,218.65 872.5,217.82 873.4,218.65 874.3,218.25 875.2,218 876.1,218.66 877,218.55 877.9,217.94 878.8,217.85 879.7,218.12 880.6,218.78 881.5,218.34 882.4,217.89 883.3,218.46 884.2,218.19 885.1,218.48 886,218.05 886.9,218.24 887.8,218.1 888.7,218.01 889.6,218.73 890.5,218.51 891.4,218.73 892.3,218.26 893.2,218.46 894.1,217.81 895,218.75 895.9,217.84 896.8,218.24 897.7,218.01 898.6,218.41 899.5,218.53 900.4,218 901.3,218.66 902.2,217.94 903.1,218.61 904,217.81 904.9,218.54 905.8,218.02 906.7,218.55 907.6,218.33 908.5,218.58 909.4,218.32 910.3,218 911.2,217.85 912.1,218.63 913,218.24 913.9,218.67 914.8,217.93 915.7,218.25 916.6,218.67 917.5,218.51 918.4,218.11 919.3,218.35 920.2,218.75 921.1,218.03 922,218.13 922.9,218.09 923.8,218.49 924.7,217.95 925.6,218.13 926.5,217.84 927.4,218.46 928.3,218.46 929.2,217.87 930.1,217.82 931,218.69 931.9,218 932.8,218.1 933.7,218.56 934.6,218.27 935.5,218.57 936.4,218.38 937.3,218.38 938.2,217.8 939.1,217.95 940,217.97 940.9,218.28 941.8,218.16 942.7,218.63 943.6,218.52 944.5,218.55 945.4,217.96 946.3,217.84 947.2,215.58 948.1,215.67 949,216.05 949.9,217.96 950.8,218.74 951.7,218.64 952.6,218.28 953.5,217.89 954.4,217.92 955.3,218.34 956.2,218.27 957.1,218.34 958,218.17 958.9,218.2 959.8,217.93 960.7,218.67 961.6,218.69 962.5,215.86 963.4,218.49 964.3,218.55 965.2,218.06 966.1,216.54 967,216.47 967.9,218.02 968.8,218.57 969.7,218.62 970.6,217.87 971.5,217.9 972.4,218.57 973.3,218.1 974.2,218.56 975.1,217.98 976,218.73 976.9,217.83 977.8,217.95 978.7,217.97 979.6,218.57 980.5,218.72 981.4,218.51 982.3,217.8 983.2,217.84 984.1,218.13 985,218.4 985.9,218.67 986.8,218.17 987.7,218.45 988.6,218.38 989.5,218.29 990.4,218.3 991.3,218.49 992.2,217.85 993.1,218.59 994,217.96 994.9,218.44 995.8,218.31 996.7,218.39 997.6,218.43 998.5,218.58 999.4,218.55 1000.3,218.04 1001.2,218.36 1002.1,218.38 1003,218.69 1003.9,218.46 1004.8,218.43 1005.7,218.14 1006.6,218.75 1007.5,218.47" fill="none" stroke="#0000ff" stroke-width="4.6" stroke-linejoin="round"/>
<path d="M374.6 219 L375.5 150 L376.2 66 L377.2 66 L377.9 150 L378.6 219 Z" fill="#0000ff" stroke="#0000ff" stroke-width="1.6" stroke-linejoin="round"/>
<path d="M377.5 212 L378.4 205 L379.4 198 L380.4 199 L381.6 211 L382.4 214 L377.5 214 Z" fill="#0000ff" stroke="#0000ff" stroke-width="1.6" stroke-linejoin="round"/>
<line x1="98.5" y1="221.5" x2="1008.5" y2="221.5" stroke="#700000" stroke-width="1.1" stroke-linecap="square"/>
<line x1="123.3" y1="221" x2="123.3" y2="211.2" stroke="#000" stroke-width="1.2"/>
<line x1="250" y1="221" x2="250" y2="211.2" stroke="#000" stroke-width="1.2"/>
<line x1="376.7" y1="221" x2="376.7" y2="211.2" stroke="#000" stroke-width="1.2"/>
<line x1="503.4" y1="221" x2="503.4" y2="211.2" stroke="#000" stroke-width="1.2"/>
<line x1="630.1" y1="221" x2="630.1" y2="211.2" stroke="#000" stroke-width="1.2"/>
<line x1="756.8" y1="221" x2="756.8" y2="211.2" stroke="#000" stroke-width="1.2"/>
<line x1="883.5" y1="221" x2="883.5" y2="211.2" stroke="#000" stroke-width="1.2"/>
<line x1="98" y1="120.4" x2="108" y2="120.4" stroke="#000" stroke-width="1.2"/>
<text transform="translate(-2.4,17.3)" font-size="30" font-weight="bold">a</text>
<text transform="translate(84.9,29) scale(0.97,1)" font-size="28" text-anchor="end">0.4</text>
<text transform="translate(84.9,129.6) scale(0.97,1)" font-size="28" text-anchor="end">0.2</text>
<text transform="translate(84.9,229.8) scale(0.97,1)" font-size="28" text-anchor="end">0</text>
<text transform="translate(20.9,174.7) rotate(-90) scale(0.97,1)" font-size="28">Int. (a.u.)</text>
<rect x="116.3" y="36" width="48.6" height="22" fill="#fde0d1" stroke="#ff0000" stroke-width="2.5"/>
<line x1="116" y1="77.5" x2="165" y2="77.5" stroke="#0000ff" stroke-width="2.6"/>
<text transform="translate(179,53)" font-size="18.5">1,064 nm light</text>
<text transform="translate(178,82.9)" font-size="18.5">UV</text>
<rect x="521.1" y="42.2" width="470.6" height="110.4" fill="#fff"/>
<line x1="521" y1="42" x2="521" y2="152.5" stroke="#000" stroke-width="1.15" stroke-linecap="square"/>
<line x1="521" y1="42" x2="991.5" y2="42" stroke="#000" stroke-width="1.15" stroke-linecap="square"/>
<line x1="991.5" y1="42" x2="991.5" y2="152.5" stroke="#222" stroke-width="1" stroke-linecap="square"/>
<polygon points="521.6,152.6 521.9,112.98 522.5,113.21 523.1,112.01 523.7,112.61 524.3,113.15 524.9,112.22 525.5,111.69 526.1,111.56 526.7,113.18 527.3,111.94 527.9,112.28 528.5,113.01 529.1,111.73 529.7,112.06 530.3,111.73 530.9,113.03 531.5,113.31 532.1,112.03 532.7,112.97 533.3,113.11 533.9,111.31 534.5,111.88 535.1,112.71 535.7,112.74 536.3,112.86 536.9,112.72 537.5,112.9 538.1,112.22 538.7,112.05 539.3,111.98 539.9,112.81 540.5,113.26 541.1,111.51 541.7,112.37 542.3,111.42 542.9,114.23 543.5,112.89 544.1,112.84 544.7,111.46 545.3,111.66 545.9,113.17 546.5,112.56 547.1,111.48 547.7,112.88 548.3,111.95 548.9,111.97 549.5,112.22 550.1,112.68 550.7,112.74 551.3,113.31 551.9,112.76 552.5,111.7 553.1,113.03 553.7,112.07 554.3,112.41 554.9,111.7 555.5,111.72 556.1,111.49 556.7,112.14 557.3,113.3 557.9,112 558.5,111.77 559.1,113.27 559.7,112.02 560.3,113.42 560.9,112.19 561.5,114.41 562.1,112.32 562.7,112.72 563.3,111.93 563.9,113.21 564.5,111.95 565.1,111.89 565.7,111.46 566.3,112.51 566.9,113.25 567.5,110.61 568.1,112.73 568.7,113.89 569.3,111.72 569.9,113.89 570.5,113.25 571.1,112.05 571.7,112.98 572.3,111.74 572.9,112.43 573.5,112.71 574.1,111.64 574.7,111.5 575.3,112.37 575.9,112.7 576.5,112.17 577.1,111.91 577.7,112.94 578.3,111.67 578.9,112.87 579.5,113.16 580.1,112.85 580.7,112.66 581.3,111.63 581.9,112.77 582.5,113.08 583.1,113.17 583.7,112.08 584.3,111.92 584.9,111.51 585.5,110.94 586.1,112.37 586.7,112.54 587.3,111.42 587.9,112.3 588.5,111.95 589.1,113.29 589.7,111.82 590.3,113 590.9,113.31 591.5,112.78 592.1,111.7 592.7,111.89 593.3,113.27 593.9,112.64 594.5,112.53 595.1,113.09 595.7,112.96 596.3,112.01 596.9,111.5 597.5,111.62 598.1,112.72 598.7,112.26 599.3,111.73 599.9,111.92 600.5,112.82 601.1,112.23 601.7,112.76 602.3,111.88 602.9,112.75 603.5,112.85 604.1,113.19 604.7,111.74 605.3,113.02 605.9,112.84 606.5,112.46 607.1,112.48 607.7,110.84 608.3,113.45 608.9,112.03 609.5,112.07 610.1,113.6 610.7,112.3 611.3,112.71 611.9,111.76 612.5,111.39 613.1,112.77 613.7,113.31 614.3,112.81 614.9,112.97 615.5,110.37 616.1,111.33 616.7,111.43 617.3,113.41 617.9,112.46 618.5,112.88 619.1,111.36 619.7,112.05 620.3,111.54 620.9,113.23 621.5,112.48 622.1,112.71 622.7,112.86 623.3,112.78 623.9,111.68 624.5,113.06 625.1,112.77 625.7,113.1 626.3,111.57 626.9,112.1 627.5,112.94 628.1,111.35 628.7,112.83 629.3,112.81 629.9,111.82 630.5,112.56 631.1,111.81 631.7,111.77 632.3,113.19 632.9,113.17 633.5,110.38 634.1,111.81 634.7,111.66 635.3,111.54 635.9,113.11 636.5,111.34 637.1,112.44 637.7,112.33 638.3,112.52 638.9,112.56 639.5,112.67 640.1,111.75 640.7,112.34 641.3,111.75 641.9,112.8 642.5,113.29 643.1,111.5 643.7,111.37 644.3,113.99 644.9,111.94 645.5,112.31 646.1,111.99 646.7,110.37 647.3,112.24 647.9,112.55 648.5,113.16 649.1,112.92 649.7,113 650.3,111.38 650.9,113.02 651.5,113.08 652.1,113.21 652.7,112.73 653.3,111.92 653.9,112.87 654.5,113.21 655.1,112.27 655.7,112.83 656.3,111.97 656.9,111.34 657.5,112 658.1,112.03 658.7,111.32 659.3,111.79 659.9,111.48 660.5,111.39 661.1,112.17 661.7,111.44 662.3,112.23 662.9,111.42 663.5,111.8 664.1,113.18 664.7,112.87 665.3,112.61 665.9,112.82 666.5,112.74 667.1,111.55 667.7,112.53 668.3,111.64 668.9,111.88 669.5,111.99 670.1,111.49 670.7,112.59 671.3,112.62 671.9,110.38 672.5,110.8 673.1,110.22 673.7,112.61 674.3,113.06 674.9,112.21 675.5,111.82 676.1,112.7 676.7,113.29 677.3,113.03 677.9,111.95 678.5,112.08 679.1,111.52 679.7,112.01 680.3,112.55 680.9,112.65 681.5,111.66 682.1,111.5 682.7,112.07 683.3,112.44 683.9,110.07 684.5,112.01 685.1,111.65 685.7,112.78 686.3,111.63 686.9,113.05 687.5,111.63 688.1,111.83 688.7,112.82 689.3,111.78 689.9,110.63 690.5,112.97 691.1,111.36 691.7,111.53 692.3,111.63 692.9,113.14 693.5,111.31 694.1,112.02 694.7,113.17 695.3,111.44 695.9,112.78 696.5,113.04 697.1,114.13 697.7,111.77 698.3,113.02 698.9,111.46 699.5,113.14 700.1,113.93 700.7,111.49 701.3,113.96 701.9,110.47 702.5,111.4 703.1,112.62 703.7,112.02 704.3,113.06 704.9,111.37 705.5,112.6 706.1,114.03 706.7,111.45 707.3,111.36 707.9,111.57 708.5,112.79 709.1,113.17 709.7,113.58 710.3,112.24 710.9,113.18 711.5,113.27 712.1,111.72 712.7,111.69 713.3,112.2 713.9,113.21 714.5,112.1 715.1,113.88 715.7,111.76 716.3,111.59 716.9,112.5 717.5,112.38 718.1,111.8 718.7,111.83 719.3,113.1 719.9,111.55 720.5,112.79 721.1,113.4 721.7,111.79 722.3,111.73 722.9,112.77 723.5,114.05 724.1,112.33 724.7,112.78 725.3,112.86 725.9,112.89 726.5,111.2 727.1,112.34 727.7,112.02 728.3,112.39 728.9,112.46 729.5,112.04 730.1,113.19 730.7,112.1 731.3,111.79 731.9,113.6 732.5,111.93 733.1,112.16 733.7,112.79 734.3,113.05 734.9,111.92 735.5,112.1 736.1,112.07 736.7,112.77 737.3,112.69 737.9,112.26 738.5,113.26 739.1,111.7 739.7,112.5 740.3,112.21 740.9,111.93 741.5,111.96 742.1,111.9 742.7,112.65 743.3,112.83 743.9,111.5 744.5,111.85 745.1,111.67 745.7,112.45 746.3,112 746.9,112.56 747.5,111.39 748.1,112.6 748.7,111.35 749.3,112.45 749.9,111.08 750.5,111.43 751.1,111.61 751.7,113.06 752.3,110.37 752.9,113.2 753.5,111.93 754.1,111.9 754.7,112.22 755.3,110.41 755.9,112.26 756.5,112.99 757.1,112.26 757.7,112.47 758.3,112.87 758.9,112.94 759.5,113.13 760.1,111.95 760.7,112.67 761.3,112.84 761.9,111.44 762.5,112.39 763.1,111.64 763.7,111.47 764.3,111.74 764.9,112.1 765.5,111.77 766.1,111.83 766.7,112.64 767.3,113.06 767.9,111.87 768.5,111.77 769.1,111.7 769.7,112.9 770.3,113.17 770.9,111.87 771.5,113.55 772.1,111.35 772.7,111.55 773.3,113 773.9,112.86 774.5,112.2 775.1,111.4 775.7,112.49 776.3,111.38 776.9,112.27 777.5,112.95 778.1,112.08 778.7,112.32 779.3,112.69 779.9,111.35 780.5,111.42 781.1,111.51 781.7,113.13 782.3,111.37 782.9,111.31 783.5,112.95 784.1,111.92 784.7,111.53 785.3,112.67 785.9,111.3 786.5,112.58 787.1,112.64 787.7,112.88 788.3,112.05 788.9,112.01 789.5,112.65 790.1,113.02 790.7,113.43 791.3,113.15 791.9,111.81 792.5,112.67 793.1,111.5 793.7,114.43 794.3,111.8 794.7,113 795,140 795.2,151.5 795.2,152.6" fill="#fde0d1"/>
<polygon points="834.3,152.6 834.3,151.5 834.4,130 834.6,100 835.4,99.6 835.6,99.15 836.2,100.56 836.8,100.85 837.4,99.65 838,100.61 838.6,98.94 839.2,101.26 839.8,100.68 840.4,99.64 841,100.52 841.6,99.7 842.2,99.67 842.8,99.22 843.4,100.66 844,100.16 844.6,100.37 845.2,100.65 845.8,100.78 846.4,100.34 847,99.43 847.6,99.66 848.2,99.21 848.8,99.56 849.4,99.57 850,100.47 850.6,99.19 851.2,100.27 851.8,101.47 852.4,99.77 853,100.26 853.6,100.22 854.2,97.67 854.8,98.94 855.4,99.99 856,98.97 856.6,100.03 857.2,99.72 857.8,100.01 858.4,99.89 859,99.47 859.6,100.17 860.2,100.48 860.8,100.62 861.4,98.94 862,98.84 862.6,99.22 863.2,99.78 863.8,99.98 864.4,99.97 865,99.61 865.6,98.82 866.2,100.57 866.8,99.28 867.4,99.16 868,100.34 868.6,99.52 869.2,100.01 869.8,99.09 870.4,99.31 871,99.05 871.6,99.61 872.2,98.96 872.8,100.5 873.4,100.12 874,100.32 874.6,100.04 875.2,99.32 875.8,97.93 876.4,100.33 877,98.91 877.6,100.09 878.2,99.72 878.8,99.13 879.4,99.55 880,100.12 880.6,98.91 881.2,99.57 881.8,100.08 882.4,98.9 883,100.34 883.6,98.77 884.2,99.64 884.8,100.07 885.4,99.48 886,98.55 886.6,100.11 887.2,99.54 887.8,99.11 888.4,98.91 889,99.25 889.6,100.3 890.2,100.07 890.8,99.28 891.4,99.63 892,98.74 892.6,98.7 893.2,99.22 893.8,99.85 894.4,99.31 895,99.38 895.6,99.36 896.2,98.86 896.8,98.11 897.4,99.19 898,99.66 898.6,98.69 899.2,100.45 899.8,99.53 900.4,99.11 901,98.92 901.6,99.57 902.2,100.08 902.8,99.02 903.4,99.78 904,99.57 904.6,100.05 905.2,99.06 905.8,98.54 906.4,101.05 907,99.11 907.6,100.43 908.2,99.16 908.8,99 909.4,99.71 910,98.95 910.6,98.93 911.2,99.24 911.8,98.86 912.8,99 913.1,100 913.3,130 913.4,151.5 913.4,152.6" fill="#fde0d1"/>
<line x1="521.1" y1="152.7" x2="991.7" y2="152.7" stroke="#ff0000" stroke-width="1.5"/>
<polyline points="521.9,112.98 522.5,113.21 523.1,112.01 523.7,112.61 524.3,113.15 524.9,112.22 525.5,111.69 526.1,111.56 526.7,113.18 527.3,111.94 527.9,112.28 528.5,113.01 529.1,111.73 529.7,112.06 530.3,111.73 530.9,113.03 531.5,113.31 532.1,112.03 532.7,112.97 533.3,113.11 533.9,111.31 534.5,111.88 535.1,112.71 535.7,112.74 536.3,112.86 536.9,112.72 537.5,112.9 538.1,112.22 538.7,112.05 539.3,111.98 539.9,112.81 540.5,113.26 541.1,111.51 541.7,112.37 542.3,111.42 542.9,114.23 543.5,112.89 544.1,112.84 544.7,111.46 545.3,111.66 545.9,113.17 546.5,112.56 547.1,111.48 547.7,112.88 548.3,111.95 548.9,111.97 549.5,112.22 550.1,112.68 550.7,112.74 551.3,113.31 551.9,112.76 552.5,111.7 553.1,113.03 553.7,112.07 554.3,112.41 554.9,111.7 555.5,111.72 556.1,111.49 556.7,112.14 557.3,113.3 557.9,112 558.5,111.77 559.1,113.27 559.7,112.02 560.3,113.42 560.9,112.19 561.5,114.41 562.1,112.32 562.7,112.72 563.3,111.93 563.9,113.21 564.5,111.95 565.1,111.89 565.7,111.46 566.3,112.51 566.9,113.25 567.5,110.61 568.1,112.73 568.7,113.89 569.3,111.72 569.9,113.89 570.5,113.25 571.1,112.05 571.7,112.98 572.3,111.74 572.9,112.43 573.5,112.71 574.1,111.64 574.7,111.5 575.3,112.37 575.9,112.7 576.5,112.17 577.1,111.91 577.7,112.94 578.3,111.67 578.9,112.87 579.5,113.16 580.1,112.85 580.7,112.66 581.3,111.63 581.9,112.77 582.5,113.08 583.1,113.17 583.7,112.08 584.3,111.92 584.9,111.51 585.5,110.94 586.1,112.37 586.7,112.54 587.3,111.42 587.9,112.3 588.5,111.95 589.1,113.29 589.7,111.82 590.3,113 590.9,113.31 591.5,112.78 592.1,111.7 592.7,111.89 593.3,113.27 593.9,112.64 594.5,112.53 595.1,113.09 595.7,112.96 596.3,112.01 596.9,111.5 597.5,111.62 598.1,112.72 598.7,112.26 599.3,111.73 599.9,111.92 600.5,112.82 601.1,112.23 601.7,112.76 602.3,111.88 602.9,112.75 603.5,112.85 604.1,113.19 604.7,111.74 605.3,113.02 605.9,112.84 606.5,112.46 607.1,112.48 607.7,110.84 608.3,113.45 608.9,112.03 609.5,112.07 610.1,113.6 610.7,112.3 611.3,112.71 611.9,111.76 612.5,111.39 613.1,112.77 613.7,113.31 614.3,112.81 614.9,112.97 615.5,110.37 616.1,111.33 616.7,111.43 617.3,113.41 617.9,112.46 618.5,112.88 619.1,111.36 619.7,112.05 620.3,111.54 620.9,113.23 621.5,112.48 622.1,112.71 622.7,112.86 623.3,112.78 623.9,111.68 624.5,113.06 625.1,112.77 625.7,113.1 626.3,111.57 626.9,112.1 627.5,112.94 628.1,111.35 628.7,112.83 629.3,112.81 629.9,111.82 630.5,112.56 631.1,111.81 631.7,111.77 632.3,113.19 632.9,113.17 633.5,110.38 634.1,111.81 634.7,111.66 635.3,111.54 635.9,113.11 636.5,111.34 637.1,112.44 637.7,112.33 638.3,112.52 638.9,112.56 639.5,112.67 640.1,111.75 640.7,112.34 641.3,111.75 641.9,112.8 642.5,113.29 643.1,111.5 643.7,111.37 644.3,113.99 644.9,111.94 645.5,112.31 646.1,111.99 646.7,110.37 647.3,112.24 647.9,112.55 648.5,113.16 649.1,112.92 649.7,113 650.3,111.38 650.9,113.02 651.5,113.08 652.1,113.21 652.7,112.73 653.3,111.92 653.9,112.87 654.5,113.21 655.1,112.27 655.7,112.83 656.3,111.97 656.9,111.34 657.5,112 658.1,112.03 658.7,111.32 659.3,111.79 659.9,111.48 660.5,111.39 661.1,112.17 661.7,111.44 662.3,112.23 662.9,111.42 663.5,111.8 664.1,113.18 664.7,112.87 665.3,112.61 665.9,112.82 666.5,112.74 667.1,111.55 667.7,112.53 668.3,111.64 668.9,111.88 669.5,111.99 670.1,111.49 670.7,112.59 671.3,112.62 671.9,110.38 672.5,110.8 673.1,110.22 673.7,112.61 674.3,113.06 674.9,112.21 675.5,111.82 676.1,112.7 676.7,113.29 677.3,113.03 677.9,111.95 678.5,112.08 679.1,111.52 679.7,112.01 680.3,112.55 680.9,112.65 681.5,111.66 682.1,111.5 682.7,112.07 683.3,112.44 683.9,110.07 684.5,112.01 685.1,111.65 685.7,112.78 686.3,111.63 686.9,113.05 687.5,111.63 688.1,111.83 688.7,112.82 689.3,111.78 689.9,110.63 690.5,112.97 691.1,111.36 691.7,111.53 692.3,111.63 692.9,113.14 693.5,111.31 694.1,112.02 694.7,113.17 695.3,111.44 695.9,112.78 696.5,113.04 697.1,114.13 697.7,111.77 698.3,113.02 698.9,111.46 699.5,113.14 700.1,113.93 700.7,111.49 701.3,113.96 701.9,110.47 702.5,111.4 703.1,112.62 703.7,112.02 704.3,113.06 704.9,111.37 705.5,112.6 706.1,114.03 706.7,111.45 707.3,111.36 707.9,111.57 708.5,112.79 709.1,113.17 709.7,113.58 710.3,112.24 710.9,113.18 711.5,113.27 712.1,111.72 712.7,111.69 713.3,112.2 713.9,113.21 714.5,112.1 715.1,113.88 715.7,111.76 716.3,111.59 716.9,112.5 717.5,112.38 718.1,111.8 718.7,111.83 719.3,113.1 719.9,111.55 720.5,112.79 721.1,113.4 721.7,111.79 722.3,111.73 722.9,112.77 723.5,114.05 724.1,112.33 724.7,112.78 725.3,112.86 725.9,112.89 726.5,111.2 727.1,112.34 727.7,112.02 728.3,112.39 728.9,112.46 729.5,112.04 730.1,113.19 730.7,112.1 731.3,111.79 731.9,113.6 732.5,111.93 733.1,112.16 733.7,112.79 734.3,113.05 734.9,111.92 735.5,112.1 736.1,112.07 736.7,112.77 737.3,112.69 737.9,112.26 738.5,113.26 739.1,111.7 739.7,112.5 740.3,112.21 740.9,111.93 741.5,111.96 742.1,111.9 742.7,112.65 743.3,112.83 743.9,111.5 744.5,111.85 745.1,111.67 745.7,112.45 746.3,112 746.9,112.56 747.5,111.39 748.1,112.6 748.7,111.35 749.3,112.45 749.9,111.08 750.5,111.43 751.1,111.61 751.7,113.06 752.3,110.37 752.9,113.2 753.5,111.93 754.1,111.9 754.7,112.22 755.3,110.41 755.9,112.26 756.5,112.99 757.1,112.26 757.7,112.47 758.3,112.87 758.9,112.94 759.5,113.13 760.1,111.95 760.7,112.67 761.3,112.84 761.9,111.44 762.5,112.39 763.1,111.64 763.7,111.47 764.3,111.74 764.9,112.1 765.5,111.77 766.1,111.83 766.7,112.64 767.3,113.06 767.9,111.87 768.5,111.77 769.1,111.7 769.7,112.9 770.3,113.17 770.9,111.87 771.5,113.55 772.1,111.35 772.7,111.55 773.3,113 773.9,112.86 774.5,112.2 775.1,111.4 775.7,112.49 776.3,111.38 776.9,112.27 777.5,112.95 778.1,112.08 778.7,112.32 779.3,112.69 779.9,111.35 780.5,111.42 781.1,111.51 781.7,113.13 782.3,111.37 782.9,111.31 783.5,112.95 784.1,111.92 784.7,111.53 785.3,112.67 785.9,111.3 786.5,112.58 787.1,112.64 787.7,112.88 788.3,112.05 788.9,112.01 789.5,112.65 790.1,113.02 790.7,113.43 791.3,113.15 791.9,111.81 792.5,112.67 793.1,111.5 793.7,114.43" fill="none" stroke="#ff0000" stroke-width="4.4" stroke-linejoin="round"/>
<polyline points="835.6,99.15 836.2,100.56 836.8,100.85 837.4,99.65 838,100.61 838.6,98.94 839.2,101.26 839.8,100.68 840.4,99.64 841,100.52 841.6,99.7 842.2,99.67 842.8,99.22 843.4,100.66 844,100.16 844.6,100.37 845.2,100.65 845.8,100.78 846.4,100.34 847,99.43 847.6,99.66 848.2,99.21 848.8,99.56 849.4,99.57 850,100.47 850.6,99.19 851.2,100.27 851.8,101.47 852.4,99.77 853,100.26 853.6,100.22 854.2,97.67 854.8,98.94 855.4,99.99 856,98.97 856.6,100.03 857.2,99.72 857.8,100.01 858.4,99.89 859,99.47 859.6,100.17 860.2,100.48 860.8,100.62 861.4,98.94 862,98.84 862.6,99.22 863.2,99.78 863.8,99.98 864.4,99.97 865,99.61 865.6,98.82 866.2,100.57 866.8,99.28 867.4,99.16 868,100.34 868.6,99.52 869.2,100.01 869.8,99.09 870.4,99.31 871,99.05 871.6,99.61 872.2,98.96 872.8,100.5 873.4,100.12 874,100.32 874.6,100.04 875.2,99.32 875.8,97.93 876.4,100.33 877,98.91 877.6,100.09 878.2,99.72 878.8,99.13 879.4,99.55 880,100.12 880.6,98.91 881.2,99.57 881.8,100.08 882.4,98.9 883,100.34 883.6,98.77 884.2,99.64 884.8,100.07 885.4,99.48 886,98.55 886.6,100.11 887.2,99.54 887.8,99.11 888.4,98.91 889,99.25 889.6,100.3 890.2,100.07 890.8,99.28 891.4,99.63 892,98.74 892.6,98.7 893.2,99.22 893.8,99.85 894.4,99.31 895,99.38 895.6,99.36 896.2,98.86 896.8,98.11 897.4,99.19 898,99.66 898.6,98.69 899.2,100.45 899.8,99.53 900.4,99.11 901,98.92 901.6,99.57 902.2,100.08 902.8,99.02 903.4,99.78 904,99.57 904.6,100.05 905.2,99.06 905.8,98.54 906.4,101.05 907,99.11 907.6,100.43 908.2,99.16 908.8,99 909.4,99.71 910,98.95 910.6,98.93 911.2,99.24 911.8,98.86" fill="none" stroke="#ff0000" stroke-width="4.0" stroke-linejoin="round"/>
<polyline points="793.7,114.43 794.3,111.8 794.7,113 795,140 795.2,151.5" fill="none" stroke="#ff0000" stroke-width="2.5" stroke-linejoin="round"/>
<polyline points="834.3,151.5 834.4,130 834.6,100 835.4,99.6 835.6,99.15" fill="none" stroke="#ff0000" stroke-width="2.5" stroke-linejoin="round"/>
<polyline points="911.8,98.86 912.8,99 913.1,100 913.3,130 913.4,151.5" fill="none" stroke="#ff0000" stroke-width="2.5" stroke-linejoin="round"/>
<polyline points="521.1,149.7 522.6,149.66 524.1,149.67 525.6,149.69 527.1,149.67 528.6,149.87 530.1,149.92 531.6,149.82 533.1,149.68 534.6,149.78 536.1,149.87 537.6,149.77 539.1,149.91 540.6,149.83 542.1,149.66 543.6,149.69 545.1,149.86 546.6,149.68 548.1,149.7 549.6,149.85 551.1,149.76 552.6,149.78 554.1,149.73 555.6,149.94 557.1,149.86 558.6,149.7 560.1,149.76 561.6,149.67 563.1,149.85 564.6,149.78 566.1,149.82 567.6,149.91 569.1,149.75 570.6,149.93 572.1,149.92 573.6,149.69 575.1,149.76 576.6,149.65 578.1,149.89 579.6,149.65 581.1,149.77 582.6,149.82 584.1,149.77 585.6,149.94 587.1,149.83 588.6,149.76 590.1,149.92 591.6,149.89 593.1,149.95 594.6,149.75 596.1,149.73 597.6,149.7 599.1,149.8 600.6,149.93 602.1,149.93 603.6,149.69 605.1,149.82 606.6,149.83 608.1,149.93 609.6,149.88 611.1,149.73 612.6,149.91 614.1,149.87 615.6,149.87 617.1,149.68 618.6,149.87 620.1,149.85 621.6,149.76 623.1,149.93 624.6,149.78 626.1,149.89 627.6,149.79 629.1,149.77 630.6,149.79 632.1,149.87 633.6,149.85 635.1,149.95 636.6,149.87 638.1,149.84 639.6,149.72 641.1,149.66 642.6,149.68 644.1,149.92 645.6,149.79 647.1,149.87 648.6,149.75 650.1,149.71 651.6,149.89 653.1,149.71 654.6,149.75 656.1,149.93 657.6,149.89 659.1,149.92 660.6,149.92 662.1,149.94 663.6,149.84 665.1,149.91 666.6,149.68 668.1,149.89 669.6,149.87 671.1,149.79 672.6,149.94 674.1,149.7 675.6,149.82 677.1,149.7 678.6,149.79 680.1,149.73 681.6,149.82 683.1,149.83 684.6,149.92 686.1,149.94 687.6,149.69 689.1,149.94 690.6,149.81 692.1,149.66 693.6,149.69 695.1,149.84 696.6,149.93 698.1,149.76 699.6,149.84 701.1,149.91 702.6,149.76 704.1,149.74 705.6,149.72 707.1,148.47 708.6,149.82 710.1,149.8 711.6,149.9 713.1,149.86 714.6,149.95 716.1,148.66 717.6,149.66 719.1,149.94 720.6,148.62 722.1,149.77 723.6,149.83 725.1,149.65 726.6,149.7 728.1,149.68 729.6,149.73 731.1,149.8 732.6,149.94 734.1,149.86 735.6,149.9 737.1,149.68 738.6,149.73 740.1,149.76 741.6,149.94 743.1,149.95 744.6,149.85 746.1,149.87 747.6,149.76 749.1,149.73 750.6,149.7 752.1,149.83 753.6,149.7 755.1,149.82 756.6,149.77 758.1,149.65 759.6,149.78 761.1,149.88 762.6,149.9 764.1,149.68 765.6,149.77 767.1,149.88 768.6,149.85 770.1,149.79 771.6,149.93 773.1,149.7 774.6,149.67 776.1,149.68 777.6,149.78 779.1,149.8 780.6,149.72 782.1,149.74 783.6,149.92 785.1,149.78 786.6,149.66 788.1,149.9 789.6,149.7 791.1,149.67 792.6,149.75 794.1,149.87 795.6,149.8 797.1,149.85 798.6,149.85 800.1,148.72 801.6,149.72 803.1,149.71 804.6,149.86 806.1,149.75 807.6,149.85 809.1,149.77 810.6,149.78 812.1,149.67 813.6,149.95 815.1,149.68 816.6,149.8 818.1,149.85 819.6,149.89 821.1,149.93 822.6,149.79 824.1,149.8 825.6,149.86 827.1,149.82 828.6,149.66 830.1,149.89 831.6,149.75 833.1,149.82 834.6,149.75 836.1,149.76 837.6,149.73 839.1,148.58 840.6,149.68 842.1,149.91 843.6,149.7 845.1,149.87 846.6,149.76 848.1,149.65 849.6,149.76 851.1,149.95 852.6,149.92 854.1,149.91 855.6,149.94 857.1,149.93 858.6,149.71 860.1,149.79 861.6,149.76 863.1,149.83 864.6,149.73 866.1,149.8 867.6,149.85 869.1,149.81 870.6,149.88 872.1,149.88 873.6,149.72 875.1,149.8 876.6,149.74 878.1,149.86 879.6,149.79 881.1,149.71 882.6,149.76 884.1,149.76 885.6,149.87 887.1,149.72 888.6,149.85 890.1,149.84 891.6,149.73 893.1,149.76 894.6,149.94 896.1,149.85 897.6,149.89 899.1,149.75 900.6,149.89 902.1,149.8 903.6,149.73 905.1,149.86 906.6,149.9 908.1,149.78 909.6,149.74 911.1,149.71 912.6,149.6 916,149.73 917.5,149.91 919,149.91 920.5,149.78 922,149.88 923.5,149.69 925,149.78 926.5,149.83 928,149.66 929.5,148.56 931,149.76 932.5,149.75 934,149.84 935.5,149.66 937,149.83 938.5,149.71 940,149.92 941.5,149.83 943,149.75 944.5,149.75 946,149.83 947.5,149.69 949,149.74 950.5,149.76 952,149.68 953.5,149.72 955,149.72 956.5,149.76 958,149.89 959.5,149.73 961,149.79 962.5,149.67 964,149.72 965.5,149.88 967,149.81 968.5,149.89 970,149.73 971.5,149.78 973,149.68 974.5,148.51 976,149.68 977.5,149.76 979,149.8 980.5,149.86 982,149.94 983.5,149.8 985,149.76 986.5,149.71 988,149.76 989.5,149.83 991,149.74 992.6,149.8" fill="none" stroke="#0000ff" stroke-width="4.3" stroke-linejoin="round"/>
<path d="M913.1 150 V67.2" stroke="#0000ff" stroke-width="2.6" stroke-linecap="round"/>
<line x1="521" y1="152.5" x2="991.5" y2="152.5" stroke="#111" stroke-width="1" stroke-linecap="square"/>
<line x1="599.58" y1="152.6" x2="599.58" y2="143.3" stroke="#000" stroke-width="1.1"/>
<line x1="678.01" y1="152.6" x2="678.01" y2="143.3" stroke="#000" stroke-width="1.1"/>
<line x1="756.44" y1="152.6" x2="756.44" y2="143.3" stroke="#000" stroke-width="1.1"/>
<line x1="834.87" y1="152.6" x2="834.87" y2="143.3" stroke="#000" stroke-width="1.1"/>
<line x1="913.3" y1="152.6" x2="913.3" y2="143.3" stroke="#000" stroke-width="1.1"/>
<line x1="521.1" y1="97.2" x2="530.4" y2="97.2" stroke="#000" stroke-width="1.1"/>
<text transform="translate(511.6,48)" font-size="18.5" text-anchor="end">0.4</text>
<text transform="translate(511.6,103)" font-size="18.5" text-anchor="end">0.2</text>
<text transform="translate(511.6,157.9)" font-size="18.5" text-anchor="end">0</text>
<text transform="translate(521.55,175)" font-size="18.5" text-anchor="middle">−50</text>
<text transform="translate(599.98,175)" font-size="18.5" text-anchor="middle">−40</text>
<text transform="translate(678.41,175)" font-size="18.5" text-anchor="middle">−30</text>
<text transform="translate(756.84,175)" font-size="18.5" text-anchor="middle">−20</text>
<text transform="translate(835.27,175)" font-size="18.5" text-anchor="middle">−10</text>
<text transform="translate(913.7,175)" font-size="18.5" text-anchor="middle">0</text>
<text transform="translate(992.13,175)" font-size="18.5" text-anchor="middle">10</text>
<text transform="translate(756,205.5)" font-size="18.5" text-anchor="middle">Time (μs)</text>
<text transform="translate(465.3,96.4) rotate(-90)" font-size="18.5" text-anchor="middle">Int. (a.u.)</text>
<text transform="translate(676.4,99.7)" font-size="19.3" text-anchor="middle">'H' ODT</text>
<text transform="translate(878.5,85.9)" font-size="19.3" text-anchor="middle">'Kill'</text>
<line x1="97.7" y1="752.5" x2="1010.2" y2="752.5" stroke="#808080" stroke-width="1.5" stroke-dasharray="12.4 7.22"/>
<polyline points="356,752.5 357.01,748.57 358.03,744.69 359.04,740.86 360.05,737.06 361.07,733.31 362.08,729.6 363.1,725.93 364.11,722.3 365.12,718.71 366.14,715.16 367.15,711.65 368.16,708.18 369.18,704.75 370.19,701.36 371.2,698 372.22,694.68 373.23,691.4 374.24,688.16 375.26,684.95 376.27,681.77 377.29,678.64 378.3,675.53 379.31,672.47 380.33,669.43 381.34,666.43 382.35,663.47 383.37,660.53 384.38,657.63 385.39,654.76 386.41,651.93 387.42,649.12 388.44,646.35 389.45,643.61 390.46,640.89 391.48,638.21 392.49,635.56 393.5,632.94 394.52,630.34 395.53,627.78 396.54,625.24 397.56,622.74 398.57,620.26 399.58,617.8 400.6,615.38 401.61,612.98 402.63,610.61 403.64,608.26 404.65,605.95 405.67,603.65 406.68,601.39 407.69,599.14 408.71,596.93 409.72,594.73 410.73,592.57 411.75,590.42 412.76,588.3 413.78,586.21 414.79,584.13 415.8,582.08 416.82,580.06 417.83,578.05 418.84,576.07 419.86,574.11 420.87,572.17 421.88,570.25 422.9,568.36 423.91,566.48 424.92,564.63 425.94,562.8 426.95,560.99 427.97,559.19 428.98,557.42 429.99,555.67 431.01,553.94 432.02,552.22 433.03,550.53 434.05,548.85 435.06,547.2 436.07,545.56 437.09,543.94 438.1,542.34 439.12,540.75 440.13,539.18 441.14,537.63 442.16,536.1 443.17,534.59 444.18,533.09 445.2,531.61 446.21,530.14 447.22,528.7 448.24,527.26 449.25,525.85 450.26,524.45 451.28,523.06 452.29,521.69 453.31,520.34 454.32,519 455.33,517.67 456.35,516.36 457.36,515.07 458.37,513.79 459.39,512.52 460.4,511.27 461.41,510.03 462.43,508.81 463.44,507.59 464.46,506.4 465.47,505.21 466.48,504.04 467.5,502.88 468.51,501.74 469.52,500.61 470.54,499.49 471.55,498.38 472.56,497.29 473.58,496.2 474.59,495.13 475.6,494.07 476.62,493.03 477.63,491.99 478.65,490.97 479.66,489.96 480.67,488.95 481.69,487.96 482.7,486.99 483.71,486.02 484.73,485.06 485.74,484.11 486.75,483.18 487.77,482.25 488.78,481.34 489.8,480.43 490.81,479.54 491.82,478.65 492.84,477.78 493.85,476.91 494.86,476.06 495.88,475.21 496.89,474.37 497.9,473.55 498.92,472.73 499.93,471.92 500.94,471.12 501.96,470.33 502.97,469.55 503.99,468.77 505,468.01 506.01,467.25 507.03,466.5 508.04,465.76 509.05,465.03 510.07,464.31 511.08,463.59 512.09,462.88 513.11,462.18 514.12,461.49 515.14,460.81 516.15,460.13 517.16,459.46 518.18,458.8 519.19,458.15 520.2,457.5 521.22,456.86 522.23,456.23 523.24,455.6 524.26,454.99 525.27,454.37 526.28,453.77 527.3,453.17 528.31,452.58 529.33,452 534.39,449.17 539.46,446.5 544.53,443.97 549.6,441.58 554.67,439.32 559.73,437.18 564.8,435.16 569.87,433.25 574.94,431.44 580.01,429.73 585.07,428.12 590.14,426.59 595.21,425.15 600.28,423.78 605.35,422.49 610.41,421.27 615.48,420.12 620.55,419.03 625.62,417.99 630.69,417.02 635.75,416.1 640.82,415.22 645.89,414.4 650.96,413.62 656.03,412.88 661.09,412.19 666.16,411.53 671.23,410.9 676.3,410.31 681.37,409.76 686.43,409.23 691.5,408.73 696.57,408.26 701.64,407.81 706.71,407.39 711.77,406.99 716.84,406.62 721.91,406.26 726.98,405.93 732.05,405.61 737.11,405.31 742.18,405.02 747.25,404.75 752.32,404.5 757.39,404.26 762.45,404.03 767.52,403.81 772.59,403.61 777.66,403.42 782.73,403.24 787.79,403.07 792.86,402.9 797.93,402.75 803,402.6 808.07,402.47 813.13,402.34 818.2,402.21 823.27,402.1 828.34,401.99 833.41,401.88 838.47,401.79 843.54,401.69 848.61,401.6 853.68,401.52 858.75,401.44 863.81,401.37 868.88,401.3 873.95,401.23 879.02,401.17 884.09,401.11 889.15,401.05 894.22,401 899.29,400.95 904.36,400.9 909.43,400.86 914.49,400.82 919.56,400.78 924.63,400.74 929.7,400.7 934.77,400.67 939.83,400.64 944.9,400.61 949.97,400.58 955.04,400.55 960.11,400.52 965.17,400.5 970.24,400.48 975.31,400.46 980.38,400.44 985.45,400.42 990.51,400.4 995.58,400.38 1000.65,400.36 1005.72,400.35 1010.3,400.34" fill="none" stroke="#808080" stroke-width="2.4" stroke-linejoin="round"/>
<path d="M123.5 743.3V762M118.4 743.3H128.6M118.4 762H128.6" stroke="#aa00ff" stroke-width="2.4" fill="none"/>
<circle cx="123.5" cy="752.6" r="6.5" fill="none" stroke="#aa00ff" stroke-width="2.4"/>
<path d="M364.1 700.9V726.1M359 700.9H369.2M359 726.1H369.2" stroke="#aa00ff" stroke-width="2.4" fill="none"/>
<circle cx="364.1" cy="713.4" r="6.5" fill="none" stroke="#aa00ff" stroke-width="2.4"/>
<path d="M372.3 696.2V722.5M367.2 696.2H377.4M367.2 722.5H377.4" stroke="#aa00ff" stroke-width="2.4" fill="none"/>
<circle cx="372.3" cy="709.8" r="6.5" fill="none" stroke="#aa00ff" stroke-width="2.4"/>
<path d="M376.9 672.6V701.8M371.8 672.6H382M371.8 701.8H382" stroke="#aa00ff" stroke-width="2.4" fill="none"/>
<circle cx="376.9" cy="687.2" r="6.5" fill="none" stroke="#aa00ff" stroke-width="2.4"/>
<path d="M389.4 617.3V653M384.3 617.3H394.5M384.3 653H394.5" stroke="#aa00ff" stroke-width="2.4" fill="none"/>
<circle cx="389.4" cy="635.5" r="6.5" fill="none" stroke="#aa00ff" stroke-width="2.4"/>
<path d="M402.2 591V629M397.1 591H407.3M397.1 629H407.3" stroke="#aa00ff" stroke-width="2.4" fill="none"/>
<circle cx="402.2" cy="610.1" r="6.5" fill="none" stroke="#aa00ff" stroke-width="2.4"/>
<path d="M440 504.7V550.5M434.9 504.7H445.1M434.9 550.5H445.1" stroke="#aa00ff" stroke-width="2.4" fill="none"/>
<circle cx="440" cy="527.5" r="6.5" fill="none" stroke="#aa00ff" stroke-width="2.4"/>
<path d="M503.4 473.2V521.8M498.3 473.2H508.5M498.3 521.8H508.5" stroke="#aa00ff" stroke-width="2.4" fill="none"/>
<circle cx="503.4" cy="497.5" r="6.5" fill="none" stroke="#aa00ff" stroke-width="2.4"/>
<path d="M630.3 358.8V414.9M625.2 358.8H635.4M625.2 414.9H635.4" stroke="#aa00ff" stroke-width="2.4" fill="none"/>
<circle cx="630.3" cy="386.7" r="6.5" fill="none" stroke="#aa00ff" stroke-width="2.4"/>
<path d="M883.6 352.4V409M878.5 352.4H888.7M878.5 409H888.7" stroke="#aa00ff" stroke-width="2.4" fill="none"/>
<circle cx="883.6" cy="380.3" r="6.5" fill="none" stroke="#aa00ff" stroke-width="2.4"/>
<line x1="98.5" y1="298.5" x2="98.5" y2="796.5" stroke="#333" stroke-width="1" stroke-linecap="square"/>
<line x1="98.5" y1="298.5" x2="1010.5" y2="298.5" stroke="#000" stroke-width="1" stroke-linecap="square"/>
<line x1="1010.5" y1="298.5" x2="1010.5" y2="796.5" stroke="#333" stroke-width="1" stroke-linecap="square"/>
<line x1="98.5" y1="796.5" x2="1010.5" y2="796.5" stroke="#333" stroke-width="1.1" stroke-linecap="square"/>
<line x1="123.3" y1="796" x2="123.3" y2="786.4" stroke="#000" stroke-width="1.2"/>
<line x1="250" y1="796" x2="250" y2="786.4" stroke="#000" stroke-width="1.2"/>
<line x1="376.7" y1="796" x2="376.7" y2="786.4" stroke="#000" stroke-width="1.2"/>
<line x1="503.4" y1="796" x2="503.4" y2="786.4" stroke="#000" stroke-width="1.2"/>
<line x1="630.1" y1="796" x2="630.1" y2="786.4" stroke="#000" stroke-width="1.2"/>
<line x1="756.8" y1="796" x2="756.8" y2="786.4" stroke="#000" stroke-width="1.2"/>
<line x1="883.5" y1="796" x2="883.5" y2="786.4" stroke="#000" stroke-width="1.2"/>
<line x1="98.4" y1="696.42" x2="107.8" y2="696.42" stroke="#000" stroke-width="1.2"/>
<line x1="98.4" y1="596.94" x2="107.8" y2="596.94" stroke="#000" stroke-width="1.2"/>
<line x1="98.4" y1="497.46" x2="107.8" y2="497.46" stroke="#000" stroke-width="1.2"/>
<line x1="98.4" y1="397.98" x2="107.8" y2="397.98" stroke="#000" stroke-width="1.2"/>
<text transform="translate(-0.5,296.8) scale(0.89,1)" font-size="32.4" font-weight="bold">b</text>
<text transform="translate(84.6,307.7) scale(0.97,1)" font-size="28" text-anchor="end">1.0</text>
<text transform="translate(84.6,407.18) scale(0.97,1)" font-size="28" text-anchor="end">0.8</text>
<text transform="translate(84.6,506.66) scale(0.97,1)" font-size="28" text-anchor="end">0.6</text>
<text transform="translate(84.6,606.14) scale(0.97,1)" font-size="28" text-anchor="end">0.4</text>
<text transform="translate(84.6,705.62) scale(0.97,1)" font-size="28" text-anchor="end">0.2</text>
<text transform="translate(84.6,805.1) scale(0.97,1)" font-size="28" text-anchor="end">0</text>
<text transform="translate(123.3,829.2) scale(0.97,1)" font-size="28" text-anchor="middle">−1.0</text>
<text transform="translate(250,829.2) scale(0.97,1)" font-size="28" text-anchor="middle">−0.5</text>
<text transform="translate(376.7,829.2) scale(0.97,1)" font-size="28" text-anchor="middle">0</text>
<text transform="translate(503.4,829.2) scale(0.97,1)" font-size="28" text-anchor="middle">0.5</text>
<text transform="translate(630.1,829.2) scale(0.97,1)" font-size="28" text-anchor="middle">1.0</text>
<text transform="translate(756.8,829.2) scale(0.97,1)" font-size="28" text-anchor="middle">1.5</text>
<text transform="translate(883.5,829.2) scale(0.97,1)" font-size="28" text-anchor="middle">2.0</text>
<text transform="translate(1010.2,829.2) scale(0.97,1)" font-size="28" text-anchor="middle">2.5</text>
<text transform="translate(554,870.9) scale(0.95,1)" font-size="28" text-anchor="middle">UV delay (μs)</text>
<text transform="translate(21.4,546.2) rotate(-90) scale(0.97,1)" font-size="28" text-anchor="middle">Ion counts per cycle</text>
<line x1="116.3" y1="334.1" x2="165.8" y2="334.1" stroke="#808080" stroke-width="1.5" stroke-dasharray="12.4 7.22"/>
<line x1="116.3" y1="376.6" x2="165.8" y2="376.6" stroke="#808080" stroke-width="2.4"/>
<path d="M141.4 408.4V437.5M136.3 408.4H146.5M136.3 437.5H146.5" stroke="#aa00ff" stroke-width="2.5" fill="none"/>
<circle cx="141.4" cy="422.8" r="4.95" fill="none" stroke="#aa00ff" stroke-width="2.5"/>
<text x="178.3" y="339.8" font-size="18.5"><tspan font-style="italic" font-size="19.4">N</tspan><tspan font-size="12.5" dy="4.3">0</tspan></text>
<text x="177.6" y="383.1" font-size="18.5">K<tspan font-size="12.5" dy="8.3">2</tspan><tspan dy="-8.3">Rb</tspan><tspan font-size="12.5" dy="8.3">2</tspan><tspan font-size="12.5" dy="-15.5">+</tspan><tspan dy="7.2"> fit</tspan></text>
<text x="177.6" y="427.9" font-size="18.5">K<tspan font-size="12.5" dy="8.3">2</tspan><tspan dy="-8.3">Rb</tspan><tspan font-size="12.5" dy="8.3">2</tspan><tspan font-size="12.5" dy="-15.5">+</tspan><tspan dy="7.2"> counts</tspan></text>
<rect x="651.2" y="429.7" width="352.8" height="264.6" fill="#fff"/>
<line x1="650.7" y1="671.3" x2="1004" y2="671.3" stroke="#404040" stroke-width="1.3" stroke-dasharray="12.5 7.15"/>
<polyline points="666.25,671.22 666.4,666.05 666.56,661.02 666.71,656.12 666.86,651.36 667.02,646.74 667.17,642.24 667.32,637.87 667.47,633.61 667.63,629.48 667.78,625.45 667.93,621.54 668.09,617.74 668.24,614.04 668.39,610.45 668.54,606.95 668.7,603.55 668.85,600.24 669,597.03 669.16,593.9 669.31,590.86 669.46,587.91 669.61,585.03 669.77,582.24 669.92,579.52 670.07,576.88 670.23,574.31 670.38,571.81 670.53,569.38 670.68,567.02 670.84,564.72 670.99,562.49 671.14,560.32 671.29,558.2 671.45,556.15 671.6,554.15 671.75,552.21 671.91,550.32 672.06,548.48 672.21,546.7 672.36,544.96 672.52,543.27 672.67,541.63 672.82,540.04 672.98,538.48 673.13,536.97 673.28,535.51 673.43,534.08 673.59,532.69 673.74,531.34 673.89,530.03 674.05,528.75 674.2,527.51 674.35,526.31 674.5,525.13 674.66,523.99 674.81,522.88 674.96,521.8 675.12,520.76 675.27,519.74 675.42,518.74 675.57,517.78 675.73,516.84 675.88,515.93 676.03,515.04 676.19,514.18 676.34,513.34 676.49,512.53 676.64,511.73 676.8,510.96 676.95,510.21 677.1,509.49 677.26,508.78 677.41,508.09 677.56,507.42 677.71,506.77 677.87,506.13 678.02,505.52 678.17,504.92 678.33,504.33 678.48,503.77 678.63,503.22 678.78,502.68 678.94,502.16 679.09,501.65 679.24,501.16 679.39,500.68 679.55,500.22 679.7,499.76 679.85,499.32 680.01,498.9 680.16,498.48 680.31,498.07 680.46,497.68 680.62,497.3 680.77,496.93 680.92,496.56 681.08,496.21 681.23,495.87 681.38,495.54 681.53,495.21 681.69,494.9 681.84,494.59 681.99,494.29 682.15,494.01 682.3,493.72 682.45,493.45 682.6,493.18 682.76,492.93 682.91,492.67 683.06,492.43 683.22,492.19 683.37,491.96 683.52,491.74 683.67,491.52 683.83,491.3 683.98,491.1 684.13,490.9 684.29,490.7 684.44,490.51 684.59,490.33 684.74,490.15 684.9,489.97 685.05,489.8 685.2,489.64 685.36,489.48 685.51,489.32 685.66,489.17 685.81,489.02 685.97,488.88 686.12,488.74 686.27,488.6 686.43,488.47 686.58,488.34 686.73,488.22 686.88,488.09 687.04,487.98 687.19,487.86 687.34,487.75 687.49,487.64 687.65,487.54 687.8,487.43 687.95,487.33 688.11,487.24 688.26,487.14 688.41,487.05 688.56,486.96 688.72,486.87 688.87,486.79 689.02,486.71 689.18,486.63 689.33,486.55 689.48,486.47 689.63,486.4 689.79,486.33 689.94,486.26 690.09,486.19 690.25,486.13 690.4,486.06 690.55,486 690.7,485.94 690.86,485.88 691.01,485.82 691.16,485.77 691.32,485.72 691.47,485.66 691.62,485.61 691.77,485.56 691.93,485.51 692.08,485.47 692.23,485.42 692.39,485.38 692.54,485.33 692.69,485.29 692.84,485.25 693,485.21 693.15,485.17 693.3,485.14 693.46,485.1 693.61,485.06 693.76,485.03 693.91,485 694.07,484.96 694.22,484.93 694.37,484.9 694.53,484.87 694.68,484.84 694.83,484.81 694.98,484.79 695.14,484.76 695.29,484.73 695.44,484.71 695.59,484.68 695.75,484.66 695.9,484.64 696.05,484.61 696.21,484.59 696.36,484.57 696.51,484.55 696.66,484.53 696.82,484.51 696.97,484.49 697.12,484.47 697.28,484.45 697.43,484.44 697.58,484.42 697.73,484.4 697.89,484.39 698.04,484.37 698.19,484.36 698.35,484.34 698.5,484.33 698.65,484.31 698.8,484.3 698.96,484.28 699.11,484.27 699.26,484.26 699.42,484.25 699.57,484.24 699.72,484.22 699.87,484.21 700.03,484.2 700.18,484.19 700.33,484.18 700.49,484.17 700.64,484.16 700.79,484.15 700.94,484.14 701.1,484.13 701.25,484.12 701.4,484.12 701.56,484.11 701.71,484.1 701.86,484.09 702.01,484.08 702.17,484.08 702.32,484.07 702.47,484.06 702.63,484.06 702.78,484.05 702.93,484.04 703.08,484.04 703.24,484.03 703.39,484.02 703.54,484.02 703.69,484.01 703.85,484.01 704,484 704.15,484 704.31,483.99 704.46,483.99 704.61,483.98 704.76,483.98 704.92,483.97 705.07,483.97 705.22,483.97 705.38,483.96 705.53,483.96 705.68,483.95 705.83,483.95 705.99,483.95 706.14,483.94 706.29,483.94 706.45,483.94 706.6,483.93 706.75,483.93 706.9,483.93 707.06,483.92 707.21,483.92 707.36,483.92 707.52,483.91 707.67,483.91 707.82,483.91 707.97,483.91 708.13,483.9 708.28,483.9 708.43,483.9 708.59,483.9 708.74,483.89 708.89,483.89 709.04,483.89 709.2,483.89 709.35,483.89 709.5,483.88 709.66,483.88 709.81,483.88 709.96,483.88 710.11,483.88 710.27,483.88 710.42,483.87 710.57,483.87 710.73,483.87 710.88,483.87 711.03,483.87 711.18,483.87 711.34,483.87 711.49,483.86 711.64,483.86 711.79,483.86 711.95,483.86 712.1,483.86 712.25,483.86 712.41,483.86 712.56,483.86 712.71,483.85 712.86,483.85 713.02,483.85 713.17,483.85 713.32,483.85 713.48,483.85 716.53,483.84 719.59,483.83 722.65,483.82 725.7,483.82 728.76,483.82 731.82,483.82 734.87,483.82 737.93,483.82 740.99,483.82 744.04,483.82 747.1,483.82 750.16,483.82 753.21,483.82 756.27,483.82 759.33,483.82 762.38,483.82 765.44,483.82 768.49,483.82 771.55,483.82 774.61,483.82 777.66,483.82 780.72,483.82 783.78,483.82 786.83,483.82 789.89,483.82 792.95,483.82 796,483.82 799.06,483.82 802.12,483.82 805.17,483.82 808.23,483.82 811.29,483.82 814.34,483.82 817.4,483.82 820.46,483.82 823.51,483.82 826.57,483.82 829.63,483.82 832.68,483.82 835.74,483.82 838.8,483.82 841.85,483.82 844.91,483.82 847.97,483.82 851.02,483.82 854.08,483.82 857.14,483.82 860.19,483.82 863.25,483.82 866.31,483.82 869.36,483.82 872.42,483.82 875.48,483.82 878.53,483.82 881.59,483.82 884.65,483.82 887.7,483.82 890.76,483.82 893.82,483.82 896.87,483.82 899.93,483.82 902.99,483.82 906.04,483.82 909.1,483.82 912.16,483.82 915.21,483.82 918.27,483.82 921.32,483.82 924.38,483.82 927.44,483.82 930.49,483.82 933.55,483.82 936.61,483.82 939.66,483.82 942.72,483.82 945.78,483.82 948.83,483.82 951.89,483.82 954.95,483.82 958,483.82 961.06,483.82 964.12,483.82 967.17,483.82 970.23,483.82 973.29,483.82 976.34,483.82 979.4,483.82 982.46,483.82 985.51,483.82 988.57,483.82 991.63,483.82 994.68,483.82 997.74,483.82 1000.8,483.82 1004,483.82" fill="none" stroke="#808080" stroke-width="2.4" stroke-linejoin="round"/>
<path d="M652.22 666.33V676.27M646.92 666.33H657.52M646.92 676.27H657.52" stroke="#aa00ff" stroke-width="2.7" fill="none"/>
<circle cx="652.22" cy="671.27" r="3.25" fill="none" stroke="#aa00ff" stroke-width="2.7"/>
<path d="M666.74 643.78V657.18M661.44 643.78H672.04M661.44 657.18H672.04" stroke="#aa00ff" stroke-width="2.7" fill="none"/>
<circle cx="666.74" cy="650.43" r="3.25" fill="none" stroke="#aa00ff" stroke-width="2.7"/>
<path d="M667.12 641.28V655.27M661.82 641.28H672.42M661.82 655.27H672.42" stroke="#aa00ff" stroke-width="2.7" fill="none"/>
<circle cx="667.12" cy="648.52" r="3.25" fill="none" stroke="#aa00ff" stroke-width="2.7"/>
<path d="M667.5 628.73V644.26M662.2 628.73H672.8M662.2 644.26H672.8" stroke="#aa00ff" stroke-width="2.7" fill="none"/>
<circle cx="667.5" cy="636.5" r="3.25" fill="none" stroke="#aa00ff" stroke-width="2.7"/>
<path d="M668.26 599.33V618.31M662.96 599.33H673.56M662.96 618.31H673.56" stroke="#aa00ff" stroke-width="2.7" fill="none"/>
<circle cx="668.26" cy="609" r="3.25" fill="none" stroke="#aa00ff" stroke-width="2.7"/>
<path d="M669.03 585.34V605.55M663.73 585.34H674.33M663.73 605.55H674.33" stroke="#aa00ff" stroke-width="2.7" fill="none"/>
<circle cx="669.03" cy="595.5" r="3.25" fill="none" stroke="#aa00ff" stroke-width="2.7"/>
<path d="M671.32 539.45V563.8M666.02 539.45H676.62M666.02 563.8H676.62" stroke="#aa00ff" stroke-width="2.7" fill="none"/>
<circle cx="671.32" cy="551.57" r="3.25" fill="none" stroke="#aa00ff" stroke-width="2.7"/>
<path d="M675.14 522.7V548.54M669.84 522.7H680.44M669.84 548.54H680.44" stroke="#aa00ff" stroke-width="2.7" fill="none"/>
<circle cx="675.14" cy="535.62" r="3.25" fill="none" stroke="#aa00ff" stroke-width="2.7"/>
<path d="M682.78 461.87V491.7M677.48 461.87H688.08M677.48 491.7H688.08" stroke="#aa00ff" stroke-width="2.7" fill="none"/>
<circle cx="682.78" cy="476.7" r="3.25" fill="none" stroke="#aa00ff" stroke-width="2.7"/>
<path d="M698.07 458.46V488.56M692.77 458.46H703.37M692.77 488.56H703.37" stroke="#aa00ff" stroke-width="2.7" fill="none"/>
<circle cx="698.07" cy="473.3" r="3.25" fill="none" stroke="#aa00ff" stroke-width="2.7"/>
<path d="M721.2 445.7V493M715.9 445.7H726.5M715.9 493H726.5" stroke="#aa00ff" stroke-width="2.7" fill="none"/>
<circle cx="721.2" cy="469.4" r="3.25" fill="none" stroke="#aa00ff" stroke-width="2.7"/>
<path d="M744.1 478.9V508M738.8 478.9H749.4M738.8 508H749.4" stroke="#aa00ff" stroke-width="2.7" fill="none"/>
<circle cx="744.1" cy="493.4" r="3.25" fill="none" stroke="#aa00ff" stroke-width="2.7"/>
<path d="M820.7 495V536.1M815.4 495H826M815.4 536.1H826" stroke="#aa00ff" stroke-width="2.7" fill="none"/>
<circle cx="820.7" cy="515.5" r="3.25" fill="none" stroke="#aa00ff" stroke-width="2.7"/>
<path d="M973.6 465.6V495.2M968.3 465.6H978.9M968.3 495.2H978.9" stroke="#aa00ff" stroke-width="2.7" fill="none"/>
<circle cx="973.6" cy="480.2" r="3.25" fill="none" stroke="#aa00ff" stroke-width="2.7"/>
<line x1="651" y1="429.6" x2="651" y2="694.5" stroke="#000" stroke-width="1.15" stroke-linecap="square"/>
<line x1="651" y1="429.6" x2="1004" y2="429.6" stroke="#333" stroke-width="1" stroke-linecap="square"/>
<line x1="1004" y1="429.6" x2="1004" y2="694.5" stroke="#000" stroke-width="1.15" stroke-linecap="square"/>
<line x1="651" y1="694.5" x2="1004" y2="694.5" stroke="#000" stroke-width="1" stroke-linecap="square"/>
<line x1="667.5" y1="694.3" x2="667.5" y2="685.2" stroke="#000" stroke-width="1.1"/>
<line x1="743.91" y1="694.3" x2="743.91" y2="685.2" stroke="#000" stroke-width="1.1"/>
<line x1="820.33" y1="694.3" x2="820.33" y2="685.2" stroke="#000" stroke-width="1.1"/>
<line x1="896.75" y1="694.3" x2="896.75" y2="685.2" stroke="#000" stroke-width="1.1"/>
<line x1="973.16" y1="694.3" x2="973.16" y2="685.2" stroke="#000" stroke-width="1.1"/>
<line x1="651.2" y1="641.4" x2="660.4" y2="641.4" stroke="#000" stroke-width="1.1"/>
<line x1="651.2" y1="588.5" x2="660.4" y2="588.5" stroke="#000" stroke-width="1.1"/>
<line x1="651.2" y1="535.6" x2="660.4" y2="535.6" stroke="#000" stroke-width="1.1"/>
<line x1="651.2" y1="482.7" x2="660.4" y2="482.7" stroke="#000" stroke-width="1.1"/>
<text transform="translate(642.6,436.3)" font-size="18.5" text-anchor="end">1.0</text>
<text transform="translate(642.6,489.2)" font-size="18.5" text-anchor="end">0.8</text>
<text transform="translate(642.6,542.1)" font-size="18.5" text-anchor="end">0.6</text>
<text transform="translate(642.6,595)" font-size="18.5" text-anchor="end">0.4</text>
<text transform="translate(642.6,647.9)" font-size="18.5" text-anchor="end">0.2</text>
<text transform="translate(642.6,700.8)" font-size="18.5" text-anchor="end">0</text>
<text transform="translate(668,716.6)" font-size="18.5" text-anchor="middle">0</text>
<text transform="translate(744.41,716.6)" font-size="18.5" text-anchor="middle">5</text>
<text transform="translate(820.83,716.6)" font-size="18.5" text-anchor="middle">10</text>
<text transform="translate(897.25,716.6)" font-size="18.5" text-anchor="middle">15</text>
<text transform="translate(973.66,716.6)" font-size="18.5" text-anchor="middle">20</text>
<text transform="translate(827.3,742.5)" font-size="18.5" text-anchor="middle">Time (μs)</text>
<text transform="translate(591.2,561.3) rotate(-90)" font-size="18.5" text-anchor="middle">Ion counts per cycle</text>
</svg>
</body></html>
